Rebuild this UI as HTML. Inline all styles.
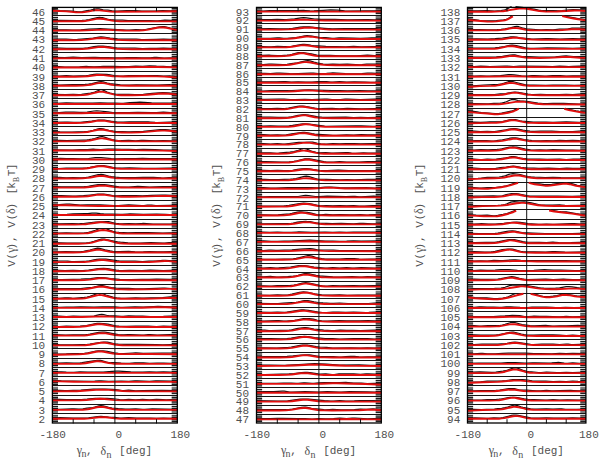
<!DOCTYPE html><html><head><meta charset="utf-8"><style>html,body{margin:0;padding:0;background:#fff;overflow:hidden;}svg{display:block;}text{font-family:"Liberation Mono",monospace;}</style></head><body>
<svg width="604" height="463" viewBox="0 0 604 463">
<rect width="604" height="463" fill="#fff"/>
<path d="M52.4 7V423h5.6V7zM177.3 7V423h-5.6V7z" fill="#d8d8d8"/>
<path d="M52.4 15.5H177.3M52.4 24.5H177.3M52.4 33.5H177.3M52.4 43.5H177.3M52.4 52.5H177.3M52.4 61.5H177.3M52.4 71.5H177.3M52.4 80.5H177.3M52.4 89.5H177.3M52.4 98.5H177.3M52.4 108.5H177.3M52.4 117.5H177.3M52.4 126.5H177.3M52.4 135.5H177.3M52.4 145.5H177.3M52.4 154.5H177.3M52.4 163.5H177.3M52.4 172.5H177.3M52.4 182.5H177.3M52.4 191.5H177.3M52.4 200.5H177.3M52.4 209.5H177.3M52.4 219.5H177.3M52.4 228.5H177.3M52.4 237.5H177.3M52.4 246.5H177.3M52.4 256.5H177.3M52.4 265.5H177.3M52.4 274.5H177.3M52.4 284.5H177.3M52.4 293.5H177.3M52.4 302.5H177.3M52.4 311.5H177.3M52.4 321.5H177.3M52.4 330.5H177.3M52.4 339.5H177.3M52.4 348.5H177.3M52.4 358.5H177.3M52.4 367.5H177.3M52.4 376.5H177.3M52.4 385.5H177.3M52.4 395.5H177.3M52.4 404.5H177.3M52.4 413.5H177.3" stroke="#151515" stroke-width="1.1" fill="none"/>
<path d="M52.4 8.3h5.6M177.3 8.3h-5.6M52.4 10.2h5.6M177.3 10.2h-5.6M52.4 12.1h5.6M177.3 12.1h-5.6M52.4 13.8h5.6M177.3 13.8h-5.6M52.4 17.5h5.6M177.3 17.5h-5.6M52.4 19.4h5.6M177.3 19.4h-5.6M52.4 21.3h5.6M177.3 21.3h-5.6M52.4 23.0h5.6M177.3 23.0h-5.6M52.4 26.8h5.6M177.3 26.8h-5.6M52.4 28.7h5.6M177.3 28.7h-5.6M52.4 30.6h5.6M177.3 30.6h-5.6M52.4 32.3h5.6M177.3 32.3h-5.6M52.4 36.1h5.6M177.3 36.1h-5.6M52.4 38.0h5.6M177.3 38.0h-5.6M52.4 39.9h5.6M177.3 39.9h-5.6M52.4 41.6h5.6M177.3 41.6h-5.6M52.4 45.3h5.6M177.3 45.3h-5.6M52.4 47.2h5.6M177.3 47.2h-5.6M52.4 49.1h5.6M177.3 49.1h-5.6M52.4 50.8h5.6M177.3 50.8h-5.6M52.4 54.6h5.6M177.3 54.6h-5.6M52.4 56.5h5.6M177.3 56.5h-5.6M52.4 58.4h5.6M177.3 58.4h-5.6M52.4 60.1h5.6M177.3 60.1h-5.6M52.4 63.8h5.6M177.3 63.8h-5.6M52.4 65.7h5.6M177.3 65.7h-5.6M52.4 67.6h5.6M177.3 67.6h-5.6M52.4 69.3h5.6M177.3 69.3h-5.6M52.4 73.1h5.6M177.3 73.1h-5.6M52.4 75.0h5.6M177.3 75.0h-5.6M52.4 76.9h5.6M177.3 76.9h-5.6M52.4 78.6h5.6M177.3 78.6h-5.6M52.4 82.4h5.6M177.3 82.4h-5.6M52.4 84.3h5.6M177.3 84.3h-5.6M52.4 86.2h5.6M177.3 86.2h-5.6M52.4 87.9h5.6M177.3 87.9h-5.6M52.4 91.6h5.6M177.3 91.6h-5.6M52.4 93.5h5.6M177.3 93.5h-5.6M52.4 95.4h5.6M177.3 95.4h-5.6M52.4 97.1h5.6M177.3 97.1h-5.6M52.4 100.9h5.6M177.3 100.9h-5.6M52.4 102.8h5.6M177.3 102.8h-5.6M52.4 104.7h5.6M177.3 104.7h-5.6M52.4 106.4h5.6M177.3 106.4h-5.6M52.4 110.2h5.6M177.3 110.2h-5.6M52.4 112.1h5.6M177.3 112.1h-5.6M52.4 114.0h5.6M177.3 114.0h-5.6M52.4 115.7h5.6M177.3 115.7h-5.6M52.4 119.4h5.6M177.3 119.4h-5.6M52.4 121.3h5.6M177.3 121.3h-5.6M52.4 123.2h5.6M177.3 123.2h-5.6M52.4 124.9h5.6M177.3 124.9h-5.6M52.4 128.7h5.6M177.3 128.7h-5.6M52.4 130.6h5.6M177.3 130.6h-5.6M52.4 132.5h5.6M177.3 132.5h-5.6M52.4 134.2h5.6M177.3 134.2h-5.6M52.4 137.9h5.6M177.3 137.9h-5.6M52.4 139.8h5.6M177.3 139.8h-5.6M52.4 141.7h5.6M177.3 141.7h-5.6M52.4 143.4h5.6M177.3 143.4h-5.6M52.4 147.2h5.6M177.3 147.2h-5.6M52.4 149.1h5.6M177.3 149.1h-5.6M52.4 151.0h5.6M177.3 151.0h-5.6M52.4 152.7h5.6M177.3 152.7h-5.6M52.4 156.5h5.6M177.3 156.5h-5.6M52.4 158.4h5.6M177.3 158.4h-5.6M52.4 160.3h5.6M177.3 160.3h-5.6M52.4 162.0h5.6M177.3 162.0h-5.6M52.4 165.7h5.6M177.3 165.7h-5.6M52.4 167.6h5.6M177.3 167.6h-5.6M52.4 169.5h5.6M177.3 169.5h-5.6M52.4 171.2h5.6M177.3 171.2h-5.6M52.4 175.0h5.6M177.3 175.0h-5.6M52.4 176.9h5.6M177.3 176.9h-5.6M52.4 178.8h5.6M177.3 178.8h-5.6M52.4 180.5h5.6M177.3 180.5h-5.6M52.4 184.3h5.6M177.3 184.3h-5.6M52.4 186.2h5.6M177.3 186.2h-5.6M52.4 188.1h5.6M177.3 188.1h-5.6M52.4 189.8h5.6M177.3 189.8h-5.6M52.4 193.5h5.6M177.3 193.5h-5.6M52.4 195.4h5.6M177.3 195.4h-5.6M52.4 197.3h5.6M177.3 197.3h-5.6M52.4 199.0h5.6M177.3 199.0h-5.6M52.4 202.8h5.6M177.3 202.8h-5.6M52.4 204.7h5.6M177.3 204.7h-5.6M52.4 206.6h5.6M177.3 206.6h-5.6M52.4 208.3h5.6M177.3 208.3h-5.6M52.4 212.0h5.6M177.3 212.0h-5.6M52.4 213.9h5.6M177.3 213.9h-5.6M52.4 215.8h5.6M177.3 215.8h-5.6M52.4 217.5h5.6M177.3 217.5h-5.6M52.4 221.3h5.6M177.3 221.3h-5.6M52.4 223.2h5.6M177.3 223.2h-5.6M52.4 225.1h5.6M177.3 225.1h-5.6M52.4 226.8h5.6M177.3 226.8h-5.6M52.4 230.6h5.6M177.3 230.6h-5.6M52.4 232.5h5.6M177.3 232.5h-5.6M52.4 234.4h5.6M177.3 234.4h-5.6M52.4 236.1h5.6M177.3 236.1h-5.6M52.4 239.8h5.6M177.3 239.8h-5.6M52.4 241.7h5.6M177.3 241.7h-5.6M52.4 243.6h5.6M177.3 243.6h-5.6M52.4 245.3h5.6M177.3 245.3h-5.6M52.4 249.1h5.6M177.3 249.1h-5.6M52.4 251.0h5.6M177.3 251.0h-5.6M52.4 252.9h5.6M177.3 252.9h-5.6M52.4 254.6h5.6M177.3 254.6h-5.6M52.4 258.4h5.6M177.3 258.4h-5.6M52.4 260.3h5.6M177.3 260.3h-5.6M52.4 262.2h5.6M177.3 262.2h-5.6M52.4 263.9h5.6M177.3 263.9h-5.6M52.4 267.6h5.6M177.3 267.6h-5.6M52.4 269.5h5.6M177.3 269.5h-5.6M52.4 271.4h5.6M177.3 271.4h-5.6M52.4 273.1h5.6M177.3 273.1h-5.6M52.4 276.9h5.6M177.3 276.9h-5.6M52.4 278.8h5.6M177.3 278.8h-5.6M52.4 280.7h5.6M177.3 280.7h-5.6M52.4 282.4h5.6M177.3 282.4h-5.6M52.4 286.1h5.6M177.3 286.1h-5.6M52.4 288.0h5.6M177.3 288.0h-5.6M52.4 289.9h5.6M177.3 289.9h-5.6M52.4 291.6h5.6M177.3 291.6h-5.6M52.4 295.4h5.6M177.3 295.4h-5.6M52.4 297.3h5.6M177.3 297.3h-5.6M52.4 299.2h5.6M177.3 299.2h-5.6M52.4 300.9h5.6M177.3 300.9h-5.6M52.4 304.7h5.6M177.3 304.7h-5.6M52.4 306.6h5.6M177.3 306.6h-5.6M52.4 308.5h5.6M177.3 308.5h-5.6M52.4 310.2h5.6M177.3 310.2h-5.6M52.4 313.9h5.6M177.3 313.9h-5.6M52.4 315.8h5.6M177.3 315.8h-5.6M52.4 317.7h5.6M177.3 317.7h-5.6M52.4 319.4h5.6M177.3 319.4h-5.6M52.4 323.2h5.6M177.3 323.2h-5.6M52.4 325.1h5.6M177.3 325.1h-5.6M52.4 327.0h5.6M177.3 327.0h-5.6M52.4 328.7h5.6M177.3 328.7h-5.6M52.4 332.4h5.6M177.3 332.4h-5.6M52.4 334.3h5.6M177.3 334.3h-5.6M52.4 336.2h5.6M177.3 336.2h-5.6M52.4 337.9h5.6M177.3 337.9h-5.6M52.4 341.7h5.6M177.3 341.7h-5.6M52.4 343.6h5.6M177.3 343.6h-5.6M52.4 345.5h5.6M177.3 345.5h-5.6M52.4 347.2h5.6M177.3 347.2h-5.6M52.4 351.0h5.6M177.3 351.0h-5.6M52.4 352.9h5.6M177.3 352.9h-5.6M52.4 354.8h5.6M177.3 354.8h-5.6M52.4 356.5h5.6M177.3 356.5h-5.6M52.4 360.2h5.6M177.3 360.2h-5.6M52.4 362.1h5.6M177.3 362.1h-5.6M52.4 364.0h5.6M177.3 364.0h-5.6M52.4 365.7h5.6M177.3 365.7h-5.6M52.4 369.5h5.6M177.3 369.5h-5.6M52.4 371.4h5.6M177.3 371.4h-5.6M52.4 373.3h5.6M177.3 373.3h-5.6M52.4 375.0h5.6M177.3 375.0h-5.6M52.4 378.8h5.6M177.3 378.8h-5.6M52.4 380.7h5.6M177.3 380.7h-5.6M52.4 382.6h5.6M177.3 382.6h-5.6M52.4 384.3h5.6M177.3 384.3h-5.6M52.4 388.0h5.6M177.3 388.0h-5.6M52.4 389.9h5.6M177.3 389.9h-5.6M52.4 391.8h5.6M177.3 391.8h-5.6M52.4 393.5h5.6M177.3 393.5h-5.6M52.4 397.3h5.6M177.3 397.3h-5.6M52.4 399.2h5.6M177.3 399.2h-5.6M52.4 401.1h5.6M177.3 401.1h-5.6M52.4 402.8h5.6M177.3 402.8h-5.6M52.4 406.5h5.6M177.3 406.5h-5.6M52.4 408.4h5.6M177.3 408.4h-5.6M52.4 410.3h5.6M177.3 410.3h-5.6M52.4 412.0h5.6M177.3 412.0h-5.6M52.4 415.8h5.6M177.3 415.8h-5.6M52.4 417.7h5.6M177.3 417.7h-5.6M52.4 419.6h5.6M177.3 419.6h-5.6M52.4 421.3h5.6M177.3 421.3h-5.6" stroke="#1e1e1e" stroke-width="1.2" fill="none"/>
<path d="M52.4 9.6 60.0 10.5 64.9 10.8 71.8 11.1 78.1 11.8 80.2 11.9 82.2 11.7 87.1 10.7 90.6 10.2 94.7 9.1 96.8 8.8 98.9 8.9 103.1 9.8 107.9 10.2 112.1 10.9 114.8 11.1 117.6 11.1 126.6 10.7 130.1 10.6 135.7 10.6 141.9 11.0 146.1 11.1 154.4 11.0 162.7 10.6 170.4 10.8 177.3 10.6M52.4 20.7 60.0 20.4 78.1 20.5 82.2 20.4 85.7 20.0 89.2 19.5 92.0 18.9 97.5 17.6 99.6 17.4 101.0 17.5 102.4 17.7 107.2 19.1 108.6 19.4 110.7 19.7 115.5 20.1 122.5 20.2 128.0 20.7 130.1 20.7 135.7 20.5 142.6 20.7 149.5 20.7 155.8 20.9 157.9 20.8 162.7 20.3 164.8 20.2 177.3 20.6M52.4 29.8 59.3 29.9 66.3 29.8 72.5 30.0 77.4 30.0 80.8 29.9 89.2 29.2 96.8 28.8 100.3 28.7 103.7 28.8 126.6 30.1 129.4 30.1 135.7 29.6 141.9 29.8 143.3 29.7 145.4 29.5 150.2 28.5 160.0 26.8 162.7 26.5 164.1 26.6 165.5 26.8 170.4 28.0 172.4 28.4 177.3 28.8M52.4 39.7 58.0 39.1 61.4 39.0 66.3 39.1 73.2 39.5 77.4 39.4 81.5 39.1 87.8 38.5 93.3 38.1 98.9 37.1 101.0 36.9 103.7 37.0 110.0 38.0 117.6 38.9 121.8 39.2 128.7 39.1 133.6 39.1 136.4 39.2 141.9 39.7 144.0 39.7 156.5 39.4 163.4 39.1 170.4 39.3 177.3 39.3M52.4 48.6 57.3 48.2 60.0 48.1 66.3 48.3 73.2 48.3 79.5 48.4 82.9 48.3 87.8 47.9 94.0 46.7 96.1 46.4 98.2 46.2 101.0 46.1 103.1 46.1 105.1 46.3 107.9 46.7 114.2 47.7 117.6 48.0 135.0 48.1 142.6 48.7 149.5 48.4 156.5 48.4 163.4 48.1 177.3 48.5M52.4 57.4 64.9 57.6 73.2 57.2 81.5 57.6 93.3 57.3 95.4 57.4 100.3 57.7 102.4 57.7 107.9 57.5 114.2 57.9 117.6 57.9 121.8 57.9 127.3 57.5 130.1 57.5 135.7 57.6 141.9 57.9 146.1 57.9 150.2 57.8 154.4 57.4 156.5 57.4 164.1 58.0 170.4 57.9 177.3 57.9M52.4 66.5 59.3 66.5 64.9 67.0 67.7 67.1 79.5 66.8 86.4 66.4 88.5 66.5 94.0 66.9 100.3 66.5 103.1 66.4 113.5 66.4 120.4 66.6 123.9 66.7 128.7 66.5 135.7 66.1 142.6 66.3 149.5 65.8 156.5 66.2 163.4 66.3 169.7 66.8 172.4 66.7 177.3 66.3M52.4 75.8 59.3 76.0 66.3 75.6 73.2 76.1 80.2 75.8 85.7 75.8 88.5 75.4 94.0 74.3 96.8 74.1 106.5 74.4 108.6 74.6 114.2 75.6 119.7 76.0 123.2 76.0 128.7 75.7 134.3 75.6 151.6 75.5 157.2 75.6 163.4 76.0 169.7 75.9 171.7 76.1 177.3 76.9M52.4 85.0 60.0 85.0 72.5 84.7 80.8 84.6 85.0 84.4 88.5 84.1 92.0 83.6 94.0 83.1 98.9 81.8 101.0 81.5 103.1 81.8 107.2 83.0 110.0 83.6 120.4 84.8 126.6 85.2 129.4 85.2 136.4 84.8 157.2 85.0 169.7 84.7 172.4 84.8 177.3 85.1M52.4 94.3 65.6 94.7 73.2 94.3 78.8 94.5 81.5 94.4 90.6 93.1 92.6 92.7 94.7 92.0 98.9 90.2 100.3 89.8M101.7 89.8 102.4 90.0 103.7 90.4 107.2 92.1 110.0 93.1 113.5 93.9 115.5 94.2 117.6 94.3 121.8 94.4 128.7 94.3 135.0 94.6 139.1 94.6 143.3 94.3 152.3 93.4 159.3 92.8 162.7 92.7 167.6 92.8 177.3 93.6M52.4 103.5 66.3 102.9 74.6 103.0 92.6 103.0 100.3 102.8 107.9 103.1 114.8 103.2 121.1 103.4 123.2 103.3 130.1 102.7 136.4 102.3 139.8 102.2 144.0 102.3 151.6 102.8 157.2 103.0 169.7 103.1 177.3 102.9M52.4 112.5 57.3 112.7 59.3 112.7 65.6 112.1 68.4 112.1 73.9 112.2 79.5 112.4 81.5 112.4 87.1 112.0 94.0 111.0 96.8 110.8 99.6 111.0 107.9 111.9 112.8 112.6 114.8 112.7 121.8 112.5 128.7 112.7 137.7 112.4 151.6 112.6 156.5 112.5 163.4 112.1 170.4 112.5 177.3 112.5M52.4 122.3 64.9 122.0 67.7 122.0 73.9 122.3 80.2 122.3 92.0 121.2 98.2 120.2 101.0 120.0 104.4 120.2 111.4 121.3 114.2 121.7 117.6 122.0 120.4 122.1 123.2 122.1 129.4 121.8 142.6 121.9 148.2 121.9 150.2 122.0 155.1 122.4 157.2 122.5 169.7 122.0 177.3 122.0M52.4 131.5 60.0 131.9 71.8 132.1 84.3 131.7 87.1 131.5 89.9 131.0 93.3 130.3 98.2 128.9 99.6 128.7 101.0 128.6 103.1 128.8 109.3 130.5 113.5 131.2 116.2 131.5 122.5 131.5 128.0 131.9 130.1 131.9 143.3 131.3 155.8 130.2 160.6 129.7 163.4 129.5 165.5 129.6 168.3 129.8 177.3 131.1M52.4 140.9 59.3 140.3 67.0 140.5 83.6 140.2 86.4 140.1 89.2 139.7 92.0 139.2 94.7 138.5 99.6 136.9 101.7 136.6 103.1 136.7 104.4 137.1 109.3 138.8 112.1 139.6 114.8 140.2 118.3 140.5 122.5 140.6 128.7 140.4 135.7 140.8 141.2 140.4 143.3 140.4 155.1 140.8 163.4 140.7 171.1 140.9 177.3 140.8M52.4 149.8 72.5 150.0 80.2 149.7 87.1 149.6 93.3 149.2 95.4 149.3 101.0 149.6 107.9 149.1 112.8 149.0 121.8 149.4 128.7 149.3 135.7 149.6 143.3 149.4 155.1 149.7 163.4 150.1 170.4 150.1 177.3 150.5M52.4 158.8 57.3 158.5 60.0 158.4 66.3 158.6 73.2 158.6 79.5 158.8 82.2 158.8 88.5 158.5 95.4 157.6 98.2 157.5 101.0 157.6 111.4 158.6 114.8 158.8 126.0 158.6 135.7 158.7 142.6 158.4 149.5 158.7 160.6 158.5 177.3 158.7M52.4 168.3 58.6 168.5 66.3 168.0 74.6 168.2 84.3 168.0 87.1 167.8 89.9 167.4 98.2 165.9 101.7 165.7 103.7 165.7 105.8 166.0 107.9 166.3 113.5 167.6 115.5 167.9 118.3 168.1 122.5 168.1 129.4 167.8 143.3 168.4 155.8 168.4 169.0 168.1 171.7 168.2 177.3 168.5M52.4 178.0 57.3 177.5 59.3 177.4 66.3 177.9 73.2 177.5 79.5 177.8 82.9 177.7 85.7 177.5 88.5 177.0 98.2 174.7 99.6 174.5 101.0 174.4 103.1 174.6 108.6 176.1 111.4 176.6 115.5 177.2 120.4 177.6 135.0 177.7 143.3 177.4 153.7 177.4 157.2 177.5 161.3 177.9 163.4 178.0 169.0 177.5 171.1 177.5 177.3 177.8M52.4 186.5 61.4 186.8 84.3 186.7 87.1 186.5 89.2 186.2 98.2 184.7 100.3 184.5 102.4 184.5 104.4 184.5 106.5 184.8 114.2 186.1 119.0 186.8 123.2 187.1 128.7 187.1 135.0 186.5 137.7 186.4 142.6 186.5 149.5 187.0 162.7 186.5 170.4 186.7 177.3 186.7M52.4 195.7 61.4 195.6 66.3 195.8 72.5 196.2 76.0 196.2 83.6 195.7 90.6 195.0 97.5 194.2 101.0 194.0 103.7 194.1 105.8 194.4 112.8 195.6 115.5 195.9 123.2 195.5 135.7 195.6 142.6 195.8 151.6 195.3 162.0 195.0 165.5 195.0 177.3 195.6M52.4 204.8 59.3 204.6 66.3 204.1 69.7 204.2 80.2 205.0 87.1 204.8 100.3 204.9 114.2 205.6 118.3 205.5 128.7 204.9 141.9 205.6 144.0 205.5 147.5 205.1 149.5 205.0 151.6 205.1 155.8 205.5 157.2 205.6 169.0 205.3 177.3 205.2M52.4 214.4 60.7 214.5 67.0 214.3 73.2 213.9 85.0 213.7 87.8 213.6 92.0 213.1 94.0 213.0 96.1 213.1 100.3 213.6 103.7 213.8 120.4 214.3 122.5 214.3 127.3 214.0 130.1 213.9 143.3 214.4 156.5 214.0 165.5 214.4 169.7 214.6 172.4 214.5 177.3 214.2M52.4 223.7 59.3 223.9 72.5 223.6 78.8 223.8 80.8 223.7 83.6 223.5 87.1 223.1 95.4 222.0 105.8 221.5 108.6 221.7 114.2 223.0 116.2 223.3 119.0 223.6 121.8 223.8 128.7 223.7 135.7 223.9 141.2 223.5 143.3 223.4 153.0 224.0 159.3 224.1 169.7 224.0 177.3 223.5M52.4 233.1 59.3 233.2 66.3 232.9 73.9 233.0 84.3 232.8 86.4 232.7 88.5 232.4 91.3 231.6 95.4 230.2 98.9 228.8M106.5 228.9 110.0 230.4 112.8 231.3 115.5 232.0 119.0 232.4 128.0 232.8 136.4 232.5 148.2 232.5 162.7 233.0 170.4 232.8 177.3 233.0M52.4 242.7 67.0 243.2 86.4 242.9 89.2 242.6 91.3 242.2 94.0 241.4 99.6 239.6 101.7 239.2 103.1 239.1 104.4 239.2 106.5 239.5 114.8 241.4 117.6 241.9 120.4 242.2 128.0 242.8 140.5 243.0 150.9 242.7 156.5 242.9 162.7 243.2 164.8 243.1 169.0 242.6 171.1 242.5 177.3 242.9M52.4 252.0 65.6 251.6 75.3 251.8 80.8 251.6 83.6 251.3 87.1 250.6 89.9 250.0 95.4 248.5 97.5 248.2 99.6 248.4 105.1 249.8 110.0 250.8 112.8 251.3 115.5 251.5 119.7 251.6 128.7 251.4 135.0 251.9 139.1 252.0 143.3 251.9 149.5 251.6 157.9 251.9 163.4 251.9 170.4 251.5 177.3 251.8M52.4 261.0 65.6 261.0 67.7 261.1 71.8 261.6 73.9 261.7 84.3 261.3 86.4 261.2 88.5 261.0 94.0 259.8 96.8 259.4 99.6 259.2 102.4 259.1 105.8 259.2 116.9 260.7 119.7 261.0 122.5 261.1 135.0 261.2 142.6 261.6 148.9 261.1 155.8 261.0 162.7 260.4 165.5 260.4 169.0 260.5 177.3 261.1M52.4 270.2 64.9 270.5 73.2 270.4 79.5 270.5 82.9 270.5 88.5 270.1 95.4 269.0 98.2 268.6 103.7 268.3 107.2 268.5 116.2 270.1 119.0 270.4 121.8 270.6 129.4 270.4 141.9 270.6 150.2 270.2 163.4 270.7 170.4 270.3 177.3 270.2M52.4 279.3 58.0 279.7 61.4 279.7 73.2 279.3 80.8 279.2 90.6 278.6 98.2 277.7 101.7 277.5 105.1 277.8 110.7 278.5 119.7 279.4 126.6 279.7 130.8 279.7 141.9 279.4 149.5 279.4 156.5 279.2 169.7 279.4 177.3 279.2M52.4 288.4 60.0 288.7 71.8 288.5 78.8 288.6 80.8 288.6 87.1 287.8 92.6 287.3 94.0 287.0 98.9 285.8 101.0 285.6 102.4 285.7 103.7 285.9 108.6 287.1 111.4 287.6 116.2 288.1 120.4 288.4 128.7 288.4 135.7 288.8 141.2 288.9 144.0 288.9 149.5 288.5 156.5 288.3 162.7 288.0 164.8 288.0 171.1 288.5 177.3 288.5M52.4 298.2 59.3 298.4 64.9 297.8 66.3 297.8 68.4 297.9 71.8 298.2 73.9 298.3 84.3 297.4 87.1 297.0 89.9 296.3 93.3 295.1 96.8 293.7M102.4 293.5 105.8 295.0 112.8 297.1 114.8 297.6 116.9 297.9 121.1 298.3 125.3 298.3 135.7 297.9 141.9 298.2 144.0 298.2 150.9 297.9 162.7 297.7 170.4 296.9 173.1 296.8 177.3 297.0M52.4 306.9 59.3 307.3 66.3 307.0 73.2 307.2 80.8 306.8 94.0 307.2 102.4 306.9 109.3 306.8 114.8 306.9 120.4 307.4 122.5 307.4 135.0 306.9 143.3 307.2 153.7 306.6 157.9 306.4 177.3 307.0M52.4 316.1 59.3 316.0 66.3 316.6 73.2 316.1 80.8 316.4 90.6 316.3 94.0 316.0 95.4 315.7 99.6 314.6 101.7 314.4 103.7 314.7 107.2 315.5 108.6 315.7 110.7 315.9 114.8 315.9 121.1 316.4 123.2 316.3 128.7 315.9 135.7 316.2 142.6 316.0 150.2 316.5 163.4 316.3 169.7 316.0 172.4 316.1 177.3 316.6M52.4 326.0 57.3 326.4 59.3 326.5 66.3 326.1 73.9 326.3 80.2 326.2 83.6 325.9 86.4 325.6 93.3 324.0 95.4 323.6 97.5 323.4 99.6 323.4 103.1 323.5 105.8 323.8 107.9 324.2 114.2 325.7 116.2 325.9 119.0 326.1 126.6 326.3 135.7 326.0 142.6 326.1 148.2 326.1 156.5 326.5 163.4 326.1 170.4 326.3 177.3 326.1M52.4 334.7 59.3 334.9 65.6 335.1 73.2 334.8 85.7 334.7 87.8 334.5 89.9 334.2 98.9 332.4 102.4 332.1 104.4 332.2 106.5 332.4 118.3 334.6 121.8 334.9 123.9 334.9 128.0 334.6 130.1 334.6 141.9 335.0 144.0 335.0 148.2 334.7 150.2 334.6 157.2 335.0 169.7 334.6 172.4 334.7 177.3 335.2M52.4 344.3 59.3 344.6 72.5 344.8 80.2 344.5 86.4 344.5 89.9 344.2 96.1 343.0 99.6 342.5 103.7 342.0 105.8 342.0 107.2 342.1 108.6 342.3 113.5 343.6 114.8 343.9 118.3 344.2 127.3 344.4 137.7 344.3 156.5 344.6 162.7 344.8 170.4 344.5 177.3 344.7M52.4 353.8 56.6 354.1 60.0 354.1 66.3 353.9 72.5 353.5 79.5 353.6 81.5 353.5 84.3 353.3 87.8 352.8 96.1 351.1 98.2 350.9 100.3 350.8 103.1 350.9 105.1 351.1 107.2 351.4 114.2 352.8 118.3 353.4 121.1 353.6 123.9 353.6 132.9 353.0 135.7 352.9 143.3 353.3 162.0 353.0 169.7 353.0 177.3 353.2M52.4 363.0 59.3 363.0 66.3 362.8 73.9 363.1 79.5 363.0 82.2 362.7 88.5 361.6 95.4 360.6 97.5 360.4 98.9 360.4 100.3 360.4 101.7 360.7 106.5 362.0 108.6 362.5 110.7 362.6 114.8 362.6 121.1 363.1 125.3 363.3 129.4 363.3 135.0 362.9 139.1 362.8 143.3 362.9 149.5 363.4 157.2 363.1 163.4 363.1 170.4 363.3 177.3 363.0M52.4 372.4 57.3 371.9 59.3 371.8 61.4 371.9 66.3 372.2 71.1 372.3 73.9 372.3 80.2 371.9 87.8 372.2 98.9 372.2 103.1 372.0 112.1 371.3 116.2 371.1 119.0 371.2 126.6 371.7 130.8 371.9 142.6 372.1 149.5 371.9 156.5 372.0 163.4 371.9 170.4 372.1 177.3 372.1M52.4 380.3 61.4 380.9 73.2 381.1 92.0 381.3 94.7 381.2 98.9 380.9 101.0 380.8 108.6 381.3 121.1 381.0 128.7 381.3 135.0 380.9 137.1 380.9 149.5 381.4 155.8 380.9 157.9 380.9 170.4 381.0 177.3 381.3M52.4 390.5 59.3 390.3 64.9 390.6 67.7 390.7 73.2 390.4 80.8 390.2 93.3 389.2 98.2 389.1 105.1 389.1 112.8 389.3 115.5 389.5 119.7 390.2 121.8 390.5 123.9 390.5 128.7 390.2 135.7 390.8 142.6 390.5 162.0 390.3 177.3 390.5M52.4 399.4 59.3 399.4 66.3 399.6 73.2 399.5 81.5 399.5 87.1 399.2 95.4 398.3 103.7 398.3 107.2 398.3 113.5 398.8 115.5 399.0 119.7 399.7 121.8 399.9 123.2 399.8 128.7 399.4 135.7 399.8 142.6 399.4 149.5 399.9 156.5 399.4 162.7 399.7 166.2 399.8 171.1 399.7 177.3 399.5M52.4 409.1 59.3 409.4 66.3 409.0 71.8 408.8 73.9 408.9 78.8 409.2 80.8 409.2 82.9 408.9 87.1 408.2 92.6 407.6 94.7 407.1 98.9 405.9 101.0 405.6 103.1 405.8 108.6 407.4 112.1 408.0 118.3 408.7 125.3 409.1 129.4 409.2 135.7 408.8 142.6 409.4 144.7 409.3 148.9 409.0 152.3 408.9 177.3 409.4M52.4 418.3 57.3 417.8 60.0 417.7 66.3 417.9 73.2 418.0 79.5 418.2 82.9 418.2 88.5 417.8 97.5 416.7 101.0 416.4 103.7 416.6 108.6 417.1 114.8 417.4 119.7 418.0 121.8 418.1 128.7 417.7 136.4 418.2 146.8 418.0 150.2 418.0 156.5 418.3 163.4 418.0 170.4 418.3 177.3 418.2" stroke="#111" stroke-width="1.2" fill="none" stroke-linejoin="round"/>
<path d="M52.4 10.7 66.3 11.4 76.0 12.2 80.2 12.4 82.2 12.3 84.3 12.1 89.2 11.4 94.0 10.4 96.1 10.2 99.6 10.4 110.7 11.6 114.8 11.8 156.5 11.6 167.6 11.5 177.3 11.2M52.4 21.4 75.3 21.3 82.2 21.2 85.0 21.0 87.8 20.6 96.8 18.9 98.9 18.7 100.3 18.7 103.7 19.0 110.7 20.4 113.5 20.8 116.2 21.1 119.7 21.3 128.0 21.4 177.3 21.4M52.4 30.6 80.2 30.5 86.4 30.4 97.5 29.9 102.4 29.8 107.9 29.9 123.9 30.5 132.2 30.6 139.1 30.5 143.3 30.3 146.8 29.9 149.5 29.4 157.2 27.8 159.3 27.5 161.3 27.4 163.4 27.5 166.2 27.8 173.8 29.4 177.3 30.0M52.4 40.2 73.9 40.2 81.5 40.0 87.1 39.6 96.8 38.2 101.0 38.0 105.1 38.2 112.8 39.3 116.2 39.7 122.5 40.1 131.5 40.2 177.3 40.2M52.4 49.2 74.6 49.2 82.2 49.1 85.7 48.8 88.5 48.5 98.2 47.1 100.3 47.0 102.4 46.9 106.5 47.2 116.9 48.7 123.2 49.1 132.2 49.2 177.3 49.2M52.4 58.4 73.9 58.2 106.5 58.5 177.3 58.5M52.4 67.5 113.5 67.5 148.9 66.9 157.2 67.0 177.3 67.4M52.4 76.7 75.3 76.7 82.2 76.6 87.8 76.2 96.8 75.0 100.3 74.9 103.7 75.1 112.8 76.2 116.9 76.4 123.2 76.5 144.7 76.3 156.5 76.4 164.1 76.6 173.8 77.3 177.3 77.4M52.4 85.7 76.0 85.7 82.9 85.6 87.8 85.1 90.6 84.7 96.8 83.4 98.9 83.1 101.0 83.0 103.1 83.1 105.1 83.4 111.4 84.7 114.2 85.1 116.9 85.4 120.4 85.6 128.7 85.7 177.3 85.7M52.4 95.3 76.0 95.3 82.9 95.1 85.7 94.8 87.8 94.5 90.6 93.9 96.8 92.3 98.9 91.9 101.0 91.8 103.1 91.9 105.1 92.3 111.4 93.9 114.8 94.6 117.6 95.0 121.1 95.2 132.2 95.3 141.9 95.1 147.5 94.7 158.6 93.7 162.7 93.5 168.3 93.7 177.3 94.6M52.4 104.0 177.3 104.0M52.4 113.2 81.5 113.2 97.5 112.7 110.0 113.1 115.5 113.2 177.3 113.2M52.4 123.0 76.0 123.0 82.9 122.8 87.8 122.4 90.6 122.0 96.8 120.9 98.9 120.7 101.0 120.6 103.1 120.7 105.1 120.9 111.4 122.0 114.2 122.4 116.9 122.7 120.4 122.9 128.7 123.0 177.3 123.0M52.4 132.6 76.0 132.6 82.9 132.4 87.8 132.0 90.6 131.4 96.8 130.0 98.9 129.7 101.0 129.6 103.1 129.7 105.1 130.0 111.4 131.4 114.8 132.1 118.3 132.4 121.8 132.5 131.5 132.6 139.8 132.3 146.1 131.9 157.2 130.9 162.0 130.6 164.8 130.6 168.3 130.8 177.3 131.6M52.4 141.4 77.4 141.4 84.3 141.2 87.1 140.9 89.9 140.5 98.9 138.6 101.0 138.4 102.4 138.4 103.7 138.5 105.8 138.7 114.8 140.7 117.6 141.0 121.1 141.3 129.4 141.4 177.3 141.4M52.4 150.5 85.0 150.5 108.6 150.0 116.2 149.9 140.5 150.4 162.7 150.6 177.3 151.1M52.4 159.5 177.3 159.5M52.4 168.9 76.0 168.9 82.9 168.8 87.8 168.3 90.6 167.8 96.8 166.5 98.9 166.3 101.0 166.1 103.1 166.3 105.1 166.5 111.4 167.8 114.2 168.3 116.9 168.6 120.4 168.8 128.7 168.9 177.3 168.9M52.4 178.5 76.0 178.5 82.9 178.3 87.8 177.9 90.6 177.5 96.8 176.3 98.9 176.0 101.0 175.9 103.1 176.0 105.1 176.3 111.4 177.5 114.2 177.9 116.9 178.2 120.4 178.4 128.7 178.5 177.3 178.5M52.4 187.6 77.4 187.6 84.3 187.5 89.9 187.0 98.9 185.8 102.4 185.6 105.8 185.8 114.8 187.1 117.6 187.4 121.1 187.5 129.4 187.6 177.3 187.6M52.4 196.7 76.0 196.7 82.9 196.6 87.8 196.2 96.8 194.9 98.9 194.7 101.0 194.6 103.1 194.7 105.1 194.9 111.4 195.9 114.8 196.3 121.1 196.7 130.1 196.7 141.2 196.6 162.7 195.9 168.3 196.0 177.3 196.4M52.4 205.4 59.3 205.2 65.6 205.2 86.4 205.9 98.9 206.0 177.3 206.1M52.4 215.0 177.3 215.0M52.4 224.6 74.6 224.6 82.2 224.4 85.7 224.2 88.5 223.9 98.2 222.5 100.3 222.3 102.4 222.3 106.5 222.6 116.9 224.1 123.2 224.5 132.2 224.6 177.3 224.6M52.4 233.6 78.1 233.6 85.0 233.4 87.8 233.2 89.9 232.8 92.6 232.2 98.9 230.5 101.0 230.2 103.1 230.0 105.1 230.2 107.2 230.5 113.5 232.2 116.2 232.8 119.0 233.2 122.5 233.5 130.8 233.6 177.3 233.6M52.4 243.7 78.8 243.7 82.9 243.6 86.4 243.4 89.2 243.1 92.0 242.6 98.9 240.7 101.0 240.2 103.1 239.9 104.4 239.9 105.8 240.0 107.9 240.3 114.2 242.1 116.9 242.8 119.7 243.2 123.2 243.5 131.5 243.7 177.3 243.7M52.4 252.5 73.2 252.5 80.2 252.4 82.9 252.1 85.7 251.8 94.7 250.0 96.8 249.8 98.2 249.8 99.6 249.8 101.7 250.1 108.6 251.5 111.4 252.0 114.2 252.3 117.6 252.5 126.0 252.5 177.3 252.5M52.4 262.1 77.4 262.1 84.3 262.0 89.2 261.6 98.2 260.3 101.7 260.0 103.7 260.1 105.8 260.3 112.8 261.3 115.5 261.7 118.3 261.9 121.8 262.0 134.3 262.1 148.9 262.0 153.7 261.8 161.3 261.2 164.8 261.0 168.3 261.1 177.3 261.9M52.4 271.3 77.4 271.2 84.3 271.1 89.9 270.6 98.9 269.2 102.4 269.1 105.8 269.3 114.8 270.7 117.6 271.0 121.1 271.2 129.4 271.3 177.3 271.3M52.4 280.2 77.4 280.2 84.3 280.1 89.9 279.6 98.9 278.3 102.4 278.1 105.8 278.4 114.8 279.7 117.6 280.0 121.1 280.1 129.4 280.2 177.3 280.2M52.4 289.5 76.0 289.5 82.9 289.3 87.8 288.8 90.6 288.3 96.8 287.0 98.9 286.7 101.0 286.6 103.1 286.7 105.1 287.0 111.4 288.3 114.8 288.9 117.6 289.2 121.1 289.4 128.7 289.5 146.8 289.4 166.2 288.9 170.4 288.9 177.3 289.2M52.4 298.8 75.3 298.8 82.2 298.6 85.0 298.3 87.1 297.9 89.9 297.2 96.1 295.5 98.2 295.1 99.6 295.0 101.7 295.1 103.7 295.5 110.7 297.4 113.5 298.0 116.9 298.5 120.4 298.7 127.3 298.8 144.7 298.8 153.0 298.6 167.6 298.0 172.4 297.9 177.3 298.1M52.4 307.9 133.6 307.9 141.9 307.7 154.4 307.2 160.0 307.1 165.5 307.2 177.3 307.7M52.4 317.0 82.2 317.0 102.4 316.4 116.9 316.9 123.2 317.0 177.3 317.0M52.4 327.0 72.5 327.0 80.2 326.7 82.9 326.5 85.7 326.2 95.4 324.5 97.5 324.2 99.6 324.2 101.7 324.3 103.7 324.5 111.4 325.9 114.2 326.4 117.6 326.7 121.1 326.9 130.1 327.0 177.3 327.0M52.4 335.6 77.4 335.6 84.3 335.5 87.1 335.3 89.9 334.9 98.9 333.4 102.4 333.2 105.8 333.4 114.8 335.0 117.6 335.3 121.1 335.5 129.4 335.6 177.3 335.6M52.4 345.4 78.1 345.4 85.0 345.2 89.9 344.8 92.6 344.3 98.9 343.1 101.0 342.8 103.1 342.7 105.1 342.8 107.2 343.1 113.5 344.3 116.2 344.8 119.0 345.1 122.5 345.3 130.8 345.4 177.3 345.4M52.4 354.8 58.0 354.8 67.7 354.5 78.8 354.3 82.9 354.1 85.7 353.8 87.8 353.5 96.1 351.8 98.2 351.5 99.6 351.4 101.7 351.5 103.7 351.8 110.0 353.1 112.8 353.5 115.5 353.9 118.3 354.0 123.9 354.1 149.5 354.0 177.3 354.2M52.4 363.9 73.2 363.9 80.2 363.7 82.9 363.5 85.7 363.2 94.7 361.5 96.8 361.3 98.2 361.3 101.7 361.6 108.6 363.0 111.4 363.4 114.2 363.7 117.6 363.8 126.0 363.9 177.3 363.9M52.4 372.9 177.3 372.9M52.4 381.4 59.3 381.4 73.9 381.8 83.6 381.9 177.3 381.9M52.4 391.4 68.4 391.3 76.7 391.2 83.6 390.8 96.1 389.9 102.4 389.7 108.6 389.9 122.5 391.0 130.1 391.3 141.2 391.4 177.3 391.4M52.4 400.4 72.5 400.4 80.2 400.3 86.4 400.0 96.1 399.0 100.3 398.8 104.4 399.0 114.8 400.1 121.8 400.4 177.3 400.4M52.4 409.9 76.0 409.9 82.9 409.7 87.8 409.2 90.6 408.7 96.8 407.3 98.9 407.0 101.0 406.9 103.1 407.0 105.1 407.3 111.4 408.7 114.2 409.2 116.9 409.6 120.4 409.8 128.7 409.9 177.3 409.9M52.4 418.8 77.4 418.8 84.3 418.7 89.9 418.4 98.9 417.3 102.4 417.2 105.8 417.3 114.8 418.4 121.1 418.8 129.4 418.8 177.3 418.8" stroke="#e20e0e" stroke-width="1.9" fill="none" stroke-linejoin="round"/>
<path d="M114.9 7.0V423.5" stroke="#111" stroke-width="1"/>
<path d="M73.2 7.0v4.3M73.2 423.5v-4.3M94.0 7.0v4.3M94.0 423.5v-4.3M135.7 7.0v4.3M135.7 423.5v-4.3M156.5 7.0v4.3M156.5 423.5v-4.3" stroke="#111" stroke-width="1"/>
<rect x="52.4" y="7.4" width="124.9" height="415.6" fill="none" stroke="#000" stroke-width="1.3"/>
<g font-size="11" fill="#505050" text-anchor="end"><text x="45.2" y="15.73">46</text><text x="45.2" y="24.98">45</text><text x="45.2" y="34.24">44</text><text x="45.2" y="43.49">43</text><text x="45.2" y="52.75">42</text><text x="45.2" y="62.01">41</text><text x="45.2" y="71.26">40</text><text x="45.2" y="80.52">39</text><text x="45.2" y="89.77">38</text><text x="45.2" y="99.03">37</text><text x="45.2" y="108.28">36</text><text x="45.2" y="117.54">35</text><text x="45.2" y="126.79">34</text><text x="45.2" y="136.05">33</text><text x="45.2" y="145.31">32</text><text x="45.2" y="154.56">31</text><text x="45.2" y="163.82">30</text><text x="45.2" y="173.07">29</text><text x="45.2" y="182.33">28</text><text x="45.2" y="191.58">27</text><text x="45.2" y="200.84">26</text><text x="45.2" y="210.09">25</text><text x="45.2" y="219.35">24</text><text x="45.2" y="228.61">23</text><text x="45.2" y="237.86">22</text><text x="45.2" y="247.12">21</text><text x="45.2" y="256.37">20</text><text x="45.2" y="265.63">19</text><text x="45.2" y="274.88">18</text><text x="45.2" y="284.14">17</text><text x="45.2" y="293.39">16</text><text x="45.2" y="302.65">15</text><text x="45.2" y="311.91">14</text><text x="45.2" y="321.16">13</text><text x="45.2" y="330.42">12</text><text x="45.2" y="339.67">11</text><text x="45.2" y="348.93">10</text><text x="45.2" y="358.18">9</text><text x="45.2" y="367.44">8</text><text x="45.2" y="376.69">7</text><text x="45.2" y="385.95">6</text><text x="45.2" y="395.21">5</text><text x="45.2" y="404.46">4</text><text x="45.2" y="413.72">3</text><text x="45.2" y="422.97">2</text></g>
<g font-size="11" fill="#505050" text-anchor="middle"><text x="52.7" y="438">-180</text><text x="118.9" y="438">0</text><text x="180.3" y="438">180</text></g>
<g fill="#505050"><text x="76.85" y="454" style='font-family:"Liberation Serif",serif;font-size:12px'>γ</text><text x="81.50" y="457.4" style='font-family:"Liberation Serif",serif;font-size:10px'>n</text><text x="89.40" y="454" font-size="11" text-anchor="middle">,</text><text x="103.25" y="454.5" style='font-family:"Liberation Serif",serif;font-size:12px' text-anchor="middle">δ</text><text x="109.00" y="457.6" style='font-family:"Liberation Serif",serif;font-size:10px' text-anchor="middle">n</text><text x="135.60" y="453.8" font-size="11" text-anchor="middle">[deg]</text></g>
<g fill="#505050" text-anchor="middle"><text transform="translate(15.20,263.40) rotate(-90)" font-size="11">V</text><text transform="translate(15.20,256.20) rotate(-90)" font-size="11">(</text><text transform="translate(15.20,250.00) rotate(-90)" style='font-family:"Liberation Serif",serif;font-size:12px'>γ</text><text transform="translate(15.20,246.20) rotate(-90)" font-size="11">)</text><text transform="translate(15.20,238.60) rotate(-90)" font-size="11">,</text><text transform="translate(15.20,224.50) rotate(-90)" font-size="11">V</text><text transform="translate(15.20,217.00) rotate(-90)" font-size="11">(</text><text transform="translate(15.20,211.10) rotate(-90)" style='font-family:"Liberation Serif",serif;font-size:12px'>δ</text><text transform="translate(15.20,206.30) rotate(-90)" font-size="11">)</text><text transform="translate(15.20,191.30) rotate(-90)" font-size="11">[</text><text transform="translate(15.20,185.50) rotate(-90)" font-size="11">k</text><text transform="translate(19.20,179.70) rotate(-90)" style='font-family:"Liberation Serif",serif;font-size:8px'>B</text><text transform="translate(15.20,173.00) rotate(-90)" font-size="11">T</text><text transform="translate(15.20,167.00) rotate(-90)" font-size="11">]</text></g>
<path d="M256.5 7V423h5.6V7zM381.3 7V423h-5.6V7z" fill="#d8d8d8"/>
<path d="M256.5 15.5H381.3M256.5 23.5H381.3M256.5 32.5H381.3M256.5 41.5H381.3M256.5 50.5H381.3M256.5 59.5H381.3M256.5 68.5H381.3M256.5 77.5H381.3M256.5 85.5H381.3M256.5 94.5H381.3M256.5 103.5H381.3M256.5 112.5H381.3M256.5 121.5H381.3M256.5 130.5H381.3M256.5 139.5H381.3M256.5 148.5H381.3M256.5 156.5H381.3M256.5 165.5H381.3M256.5 174.5H381.3M256.5 183.5H381.3M256.5 192.5H381.3M256.5 201.5H381.3M256.5 210.5H381.3M256.5 219.5H381.3M256.5 227.5H381.3M256.5 236.5H381.3M256.5 245.5H381.3M256.5 254.5H381.3M256.5 263.5H381.3M256.5 272.5H381.3M256.5 281.5H381.3M256.5 289.5H381.3M256.5 298.5H381.3M256.5 307.5H381.3M256.5 316.5H381.3M256.5 325.5H381.3M256.5 334.5H381.3M256.5 343.5H381.3M256.5 352.5H381.3M256.5 360.5H381.3M256.5 369.5H381.3M256.5 378.5H381.3M256.5 387.5H381.3M256.5 396.5H381.3M256.5 405.5H381.3M256.5 414.5H381.3" stroke="#151515" stroke-width="1.1" fill="none"/>
<path d="M256.5 8.2h5.6M381.3 8.2h-5.6M256.5 10.0h5.6M381.3 10.0h-5.6M256.5 11.8h5.6M381.3 11.8h-5.6M256.5 13.4h5.6M381.3 13.4h-5.6M256.5 17.0h5.6M381.3 17.0h-5.6M256.5 18.9h5.6M381.3 18.9h-5.6M256.5 20.7h5.6M381.3 20.7h-5.6M256.5 22.3h5.6M381.3 22.3h-5.6M256.5 25.9h5.6M381.3 25.9h-5.6M256.5 27.7h5.6M381.3 27.7h-5.6M256.5 29.6h5.6M381.3 29.6h-5.6M256.5 31.2h5.6M381.3 31.2h-5.6M256.5 34.8h5.6M381.3 34.8h-5.6M256.5 36.6h5.6M381.3 36.6h-5.6M256.5 38.4h5.6M381.3 38.4h-5.6M256.5 40.1h5.6M381.3 40.1h-5.6M256.5 43.7h5.6M381.3 43.7h-5.6M256.5 45.5h5.6M381.3 45.5h-5.6M256.5 47.3h5.6M381.3 47.3h-5.6M256.5 48.9h5.6M381.3 48.9h-5.6M256.5 52.5h5.6M381.3 52.5h-5.6M256.5 54.3h5.6M381.3 54.3h-5.6M256.5 56.2h5.6M381.3 56.2h-5.6M256.5 57.8h5.6M381.3 57.8h-5.6M256.5 61.4h5.6M381.3 61.4h-5.6M256.5 63.2h5.6M381.3 63.2h-5.6M256.5 65.0h5.6M381.3 65.0h-5.6M256.5 66.7h5.6M381.3 66.7h-5.6M256.5 70.3h5.6M381.3 70.3h-5.6M256.5 72.1h5.6M381.3 72.1h-5.6M256.5 73.9h5.6M381.3 73.9h-5.6M256.5 75.5h5.6M381.3 75.5h-5.6M256.5 79.1h5.6M381.3 79.1h-5.6M256.5 80.9h5.6M381.3 80.9h-5.6M256.5 82.8h5.6M381.3 82.8h-5.6M256.5 84.4h5.6M381.3 84.4h-5.6M256.5 88.0h5.6M381.3 88.0h-5.6M256.5 89.8h5.6M381.3 89.8h-5.6M256.5 91.6h5.6M381.3 91.6h-5.6M256.5 93.3h5.6M381.3 93.3h-5.6M256.5 96.9h5.6M381.3 96.9h-5.6M256.5 98.7h5.6M381.3 98.7h-5.6M256.5 100.5h5.6M381.3 100.5h-5.6M256.5 102.1h5.6M381.3 102.1h-5.6M256.5 105.7h5.6M381.3 105.7h-5.6M256.5 107.5h5.6M381.3 107.5h-5.6M256.5 109.4h5.6M381.3 109.4h-5.6M256.5 111.0h5.6M381.3 111.0h-5.6M256.5 114.6h5.6M381.3 114.6h-5.6M256.5 116.4h5.6M381.3 116.4h-5.6M256.5 118.2h5.6M381.3 118.2h-5.6M256.5 119.9h5.6M381.3 119.9h-5.6M256.5 123.5h5.6M381.3 123.5h-5.6M256.5 125.3h5.6M381.3 125.3h-5.6M256.5 127.1h5.6M381.3 127.1h-5.6M256.5 128.7h5.6M381.3 128.7h-5.6M256.5 132.3h5.6M381.3 132.3h-5.6M256.5 134.2h5.6M381.3 134.2h-5.6M256.5 136.0h5.6M381.3 136.0h-5.6M256.5 137.6h5.6M381.3 137.6h-5.6M256.5 141.2h5.6M381.3 141.2h-5.6M256.5 143.0h5.6M381.3 143.0h-5.6M256.5 144.8h5.6M381.3 144.8h-5.6M256.5 146.5h5.6M381.3 146.5h-5.6M256.5 150.1h5.6M381.3 150.1h-5.6M256.5 151.9h5.6M381.3 151.9h-5.6M256.5 153.7h5.6M381.3 153.7h-5.6M256.5 155.3h5.6M381.3 155.3h-5.6M256.5 158.9h5.6M381.3 158.9h-5.6M256.5 160.8h5.6M381.3 160.8h-5.6M256.5 162.6h5.6M381.3 162.6h-5.6M256.5 164.2h5.6M381.3 164.2h-5.6M256.5 167.8h5.6M381.3 167.8h-5.6M256.5 169.6h5.6M381.3 169.6h-5.6M256.5 171.4h5.6M381.3 171.4h-5.6M256.5 173.1h5.6M381.3 173.1h-5.6M256.5 176.7h5.6M381.3 176.7h-5.6M256.5 178.5h5.6M381.3 178.5h-5.6M256.5 180.3h5.6M381.3 180.3h-5.6M256.5 181.9h5.6M381.3 181.9h-5.6M256.5 185.5h5.6M381.3 185.5h-5.6M256.5 187.4h5.6M381.3 187.4h-5.6M256.5 189.2h5.6M381.3 189.2h-5.6M256.5 190.8h5.6M381.3 190.8h-5.6M256.5 194.4h5.6M381.3 194.4h-5.6M256.5 196.2h5.6M381.3 196.2h-5.6M256.5 198.0h5.6M381.3 198.0h-5.6M256.5 199.7h5.6M381.3 199.7h-5.6M256.5 203.3h5.6M381.3 203.3h-5.6M256.5 205.1h5.6M381.3 205.1h-5.6M256.5 206.9h5.6M381.3 206.9h-5.6M256.5 208.5h5.6M381.3 208.5h-5.6M256.5 212.1h5.6M381.3 212.1h-5.6M256.5 214.0h5.6M381.3 214.0h-5.6M256.5 215.8h5.6M381.3 215.8h-5.6M256.5 217.4h5.6M381.3 217.4h-5.6M256.5 221.0h5.6M381.3 221.0h-5.6M256.5 222.8h5.6M381.3 222.8h-5.6M256.5 224.7h5.6M381.3 224.7h-5.6M256.5 226.3h5.6M381.3 226.3h-5.6M256.5 229.9h5.6M381.3 229.9h-5.6M256.5 231.7h5.6M381.3 231.7h-5.6M256.5 233.5h5.6M381.3 233.5h-5.6M256.5 235.1h5.6M381.3 235.1h-5.6M256.5 238.8h5.6M381.3 238.8h-5.6M256.5 240.6h5.6M381.3 240.6h-5.6M256.5 242.4h5.6M381.3 242.4h-5.6M256.5 244.0h5.6M381.3 244.0h-5.6M256.5 247.6h5.6M381.3 247.6h-5.6M256.5 249.4h5.6M381.3 249.4h-5.6M256.5 251.3h5.6M381.3 251.3h-5.6M256.5 252.9h5.6M381.3 252.9h-5.6M256.5 256.5h5.6M381.3 256.5h-5.6M256.5 258.3h5.6M381.3 258.3h-5.6M256.5 260.1h5.6M381.3 260.1h-5.6M256.5 261.8h5.6M381.3 261.8h-5.6M256.5 265.4h5.6M381.3 265.4h-5.6M256.5 267.2h5.6M381.3 267.2h-5.6M256.5 269.0h5.6M381.3 269.0h-5.6M256.5 270.6h5.6M381.3 270.6h-5.6M256.5 274.2h5.6M381.3 274.2h-5.6M256.5 276.0h5.6M381.3 276.0h-5.6M256.5 277.9h5.6M381.3 277.9h-5.6M256.5 279.5h5.6M381.3 279.5h-5.6M256.5 283.1h5.6M381.3 283.1h-5.6M256.5 284.9h5.6M381.3 284.9h-5.6M256.5 286.7h5.6M381.3 286.7h-5.6M256.5 288.4h5.6M381.3 288.4h-5.6M256.5 292.0h5.6M381.3 292.0h-5.6M256.5 293.8h5.6M381.3 293.8h-5.6M256.5 295.6h5.6M381.3 295.6h-5.6M256.5 297.2h5.6M381.3 297.2h-5.6M256.5 300.8h5.6M381.3 300.8h-5.6M256.5 302.6h5.6M381.3 302.6h-5.6M256.5 304.5h5.6M381.3 304.5h-5.6M256.5 306.1h5.6M381.3 306.1h-5.6M256.5 309.7h5.6M381.3 309.7h-5.6M256.5 311.5h5.6M381.3 311.5h-5.6M256.5 313.3h5.6M381.3 313.3h-5.6M256.5 315.0h5.6M381.3 315.0h-5.6M256.5 318.6h5.6M381.3 318.6h-5.6M256.5 320.4h5.6M381.3 320.4h-5.6M256.5 322.2h5.6M381.3 322.2h-5.6M256.5 323.8h5.6M381.3 323.8h-5.6M256.5 327.4h5.6M381.3 327.4h-5.6M256.5 329.3h5.6M381.3 329.3h-5.6M256.5 331.1h5.6M381.3 331.1h-5.6M256.5 332.7h5.6M381.3 332.7h-5.6M256.5 336.3h5.6M381.3 336.3h-5.6M256.5 338.1h5.6M381.3 338.1h-5.6M256.5 339.9h5.6M381.3 339.9h-5.6M256.5 341.6h5.6M381.3 341.6h-5.6M256.5 345.2h5.6M381.3 345.2h-5.6M256.5 347.0h5.6M381.3 347.0h-5.6M256.5 348.8h5.6M381.3 348.8h-5.6M256.5 350.4h5.6M381.3 350.4h-5.6M256.5 354.0h5.6M381.3 354.0h-5.6M256.5 355.9h5.6M381.3 355.9h-5.6M256.5 357.7h5.6M381.3 357.7h-5.6M256.5 359.3h5.6M381.3 359.3h-5.6M256.5 362.9h5.6M381.3 362.9h-5.6M256.5 364.7h5.6M381.3 364.7h-5.6M256.5 366.5h5.6M381.3 366.5h-5.6M256.5 368.2h5.6M381.3 368.2h-5.6M256.5 371.8h5.6M381.3 371.8h-5.6M256.5 373.6h5.6M381.3 373.6h-5.6M256.5 375.4h5.6M381.3 375.4h-5.6M256.5 377.0h5.6M381.3 377.0h-5.6M256.5 380.6h5.6M381.3 380.6h-5.6M256.5 382.5h5.6M381.3 382.5h-5.6M256.5 384.3h5.6M381.3 384.3h-5.6M256.5 385.9h5.6M381.3 385.9h-5.6M256.5 389.5h5.6M381.3 389.5h-5.6M256.5 391.3h5.6M381.3 391.3h-5.6M256.5 393.1h5.6M381.3 393.1h-5.6M256.5 394.8h5.6M381.3 394.8h-5.6M256.5 398.4h5.6M381.3 398.4h-5.6M256.5 400.2h5.6M381.3 400.2h-5.6M256.5 402.0h5.6M381.3 402.0h-5.6M256.5 403.6h5.6M381.3 403.6h-5.6M256.5 407.2h5.6M381.3 407.2h-5.6M256.5 409.1h5.6M381.3 409.1h-5.6M256.5 410.9h5.6M381.3 410.9h-5.6M256.5 412.5h5.6M381.3 412.5h-5.6M256.5 416.1h5.6M381.3 416.1h-5.6M256.5 417.9h5.6M381.3 417.9h-5.6M256.5 419.8h5.6M381.3 419.8h-5.6M256.5 421.4h5.6M381.3 421.4h-5.6" stroke="#1e1e1e" stroke-width="1.2" fill="none"/>
<path d="M256.5 10.9 263.4 11.0 269.7 10.5 271.8 10.5 297.4 10.6 303.6 10.4 305.7 10.5 309.9 10.9 312.0 11.0 314.0 10.9 318.9 10.5 323.8 10.3 330.7 9.9 337.6 10.2 344.6 10.9 347.3 11.0 365.4 10.8 374.4 10.9 381.3 10.6M256.5 19.6 267.6 19.7 271.1 19.7 277.3 19.4 283.5 19.6 286.3 19.5 294.6 18.9 300.9 17.9 303.6 17.7 306.4 17.9 314.7 19.0 317.5 19.2 321.0 19.4 334.8 19.4 347.3 19.9 365.4 19.5 368.1 19.5 374.4 19.8 381.3 19.7M256.5 28.8 269.7 28.5 279.4 28.8 289.1 28.7 292.6 28.4 297.4 27.6 300.2 27.2 303.6 26.9 306.4 26.8 309.2 26.9 316.1 27.5 324.4 28.3 332.1 28.9 345.2 28.5 353.6 28.7 360.5 28.6 367.4 28.7 373.7 28.5 376.4 28.6 381.3 29.0M256.5 38.4 263.4 38.3 270.4 38.4 277.3 37.8 279.4 37.9 283.5 38.3 287.0 38.3 296.0 37.6 298.8 37.1 303.6 36.1 305.0 35.9 307.1 35.7 309.2 35.8 312.0 36.2 319.6 37.5 325.8 37.7 332.1 38.3 334.2 38.3 339.0 37.9 341.1 37.8 352.9 38.0 360.5 38.4 367.4 38.0 371.6 37.9 375.8 37.9 381.3 38.0M256.5 46.4 262.7 46.7 268.3 46.9 271.1 46.8 277.3 46.4 284.2 46.7 288.4 46.7 290.5 46.5 292.6 46.2 298.1 45.0 300.9 44.6 303.0 44.3 304.3 44.3 307.1 44.6 311.3 45.4 313.4 45.7 325.8 46.4 345.9 46.8 353.6 46.3 361.2 46.8 373.0 46.6 381.3 46.6M256.5 55.5 269.0 55.2 271.1 55.3 277.3 55.7 281.5 55.5 287.0 55.1 289.8 54.8 291.9 54.4 297.4 52.8 298.8 52.6 300.2 52.5 303.0 52.7 307.8 53.4 311.3 53.9 316.8 55.1 319.6 55.4 325.8 55.3 330.0 55.3 341.1 55.9 356.3 55.8 360.5 55.6 367.4 55.2 374.4 55.6 381.3 55.6M256.5 64.5 263.4 64.6 269.0 64.2 271.8 64.1 277.3 64.3 282.8 64.6 284.9 64.5 287.0 64.3 291.2 63.6 297.4 62.8 300.2 62.2 305.7 60.9 307.8 60.6 309.9 60.9 314.0 62.1 316.8 62.8 323.1 64.0 325.8 64.3 327.9 64.3 332.8 64.1 339.7 64.4 347.3 64.2 359.8 64.8 361.9 64.7 366.7 64.2 370.2 64.1 375.1 64.2 381.3 64.6M256.5 73.8 262.7 73.3 264.8 73.3 270.4 73.7 276.6 73.2 280.1 73.2 284.9 73.3 289.8 73.7 291.9 73.8 310.6 73.1 313.4 73.2 318.2 73.5 322.4 73.6 326.5 73.4 330.7 73.0 332.8 72.9 345.2 73.5 359.1 73.8 361.9 73.7 367.4 73.2 371.6 73.2 375.8 73.4 381.3 73.8M256.5 81.8 276.6 81.8 283.5 81.5 285.6 81.6 291.2 82.2 298.1 81.9 305.7 82.2 312.0 82.0 318.2 81.6 323.8 81.5 326.5 81.6 330.7 82.0 332.8 82.1 339.7 81.7 346.6 82.0 354.3 81.8 365.4 82.2 370.2 82.3 375.1 82.2 381.3 81.9M256.5 91.0 263.4 91.1 271.1 90.6 277.3 90.6 284.2 90.5 291.9 90.5 301.6 90.1 308.5 89.9 332.1 90.7 339.7 90.5 347.3 90.8 359.8 90.6 368.1 90.8 381.3 90.8M256.5 99.4 264.8 99.3 278.7 99.0 284.2 99.1 290.5 99.5 294.6 99.6 305.0 99.4 312.0 99.5 324.4 99.1 327.2 99.2 332.1 99.5 335.5 99.6 340.4 99.5 345.2 99.2 347.3 99.1 360.5 99.6 374.4 99.2 381.3 99.4M256.5 108.9 263.4 108.6 271.1 108.7 277.3 108.4 282.8 108.6 284.9 108.6 288.4 108.1 297.4 106.3 299.5 106.0 300.9 106.0 303.0 106.1 305.0 106.3 312.0 107.7 314.7 108.1 316.8 108.3 319.6 108.5 332.1 108.4 339.7 108.8 347.3 108.4 361.2 108.8 374.4 108.5 381.3 108.5M256.5 117.1 263.4 117.2 270.4 117.1 278.0 117.4 288.4 117.2 290.5 117.0 292.6 116.7 298.1 115.4 300.2 115.0 302.3 114.8 304.3 114.7 306.4 114.8 308.5 115.1 316.8 116.7 318.9 117.0 321.7 117.2 327.9 117.3 345.9 117.2 353.6 117.5 360.5 117.3 367.4 117.7 381.3 117.3M256.5 125.9 263.4 126.0 270.4 125.8 278.0 126.1 285.6 126.0 289.1 125.8 292.6 125.4 300.9 124.0 303.0 123.9 305.7 123.8 309.2 124.0 313.4 124.6 318.9 125.3 324.4 126.2 326.5 126.3 339.0 126.0 355.6 125.9 361.2 125.9 373.0 126.3 381.3 126.2M256.5 134.8 263.4 134.7 270.4 135.0 277.3 134.8 282.2 135.1 284.2 135.1 286.3 134.9 291.9 133.8 298.8 132.8 300.9 132.5 303.0 132.4 304.3 132.4 306.4 132.6 312.0 133.7 314.7 134.1 326.5 134.8 332.8 135.3 336.2 135.3 346.6 134.9 353.6 135.0 361.2 134.7 367.4 134.8 374.4 134.8 381.3 135.1M256.5 143.8 263.4 143.6 270.4 144.1 277.3 143.5 282.8 144.0 284.9 144.0 298.8 142.3 305.0 142.3 309.9 142.0 311.3 142.0 312.7 142.2 317.5 143.4 318.9 143.6 321.0 143.8 323.8 144.0 326.5 144.0 332.8 143.6 339.7 143.9 345.9 143.6 350.8 143.5 354.3 143.5 360.5 143.8 372.3 143.5 381.3 143.6M256.5 152.8 263.4 152.9 270.4 152.9 276.6 153.3 278.7 153.2 283.5 152.6 289.8 152.1 293.9 151.5 297.4 150.7 302.3 148.8 303.6 148.5 304.3 148.5 305.0 148.6 306.4 148.9 310.6 150.7 313.4 151.7 316.1 152.3 319.6 152.8 325.8 152.7 331.4 153.1 333.5 153.1 345.9 152.6 348.0 152.7 351.5 153.2 353.6 153.3 355.6 153.3 359.8 153.0 363.3 152.9 368.1 153.0 374.4 153.2 381.3 153.2M256.5 161.9 262.0 161.6 265.5 161.6 281.5 162.0 285.6 162.0 289.1 161.9 291.9 161.7 293.9 161.4 296.7 160.8 303.0 159.3 305.0 158.9 307.1 158.8 309.2 158.9 311.3 159.2 323.8 161.6 325.8 161.8 328.6 162.0 333.5 162.0 339.7 161.7 346.6 162.0 359.1 162.0 367.4 161.6 374.4 161.7 381.3 161.7M256.5 170.4 263.4 170.4 270.4 170.7 277.3 170.3 284.2 170.6 288.4 170.6 290.5 170.5 292.6 170.3 297.4 169.3 299.5 169.0 302.3 168.8 306.4 168.7 310.6 169.0 316.8 170.0 319.6 170.3 324.4 170.6 327.2 170.6 338.3 170.2 348.7 170.5 357.7 170.6 374.4 170.5 381.3 170.2M256.5 179.7 262.7 179.3 264.8 179.3 269.7 179.7 273.1 179.7 278.7 179.6 290.5 179.2 293.2 178.9 296.0 178.5 299.5 177.7 304.3 176.4 306.4 176.2 307.8 176.3 309.2 176.6 315.4 178.5 317.5 179.1 318.9 179.3 320.3 179.4 326.5 179.3 339.7 179.8 346.6 179.5 354.3 179.9 367.4 179.3 381.3 179.4M256.5 187.9 263.4 187.7 270.4 188.1 275.9 188.2 287.7 187.7 297.4 187.6 305.0 187.7 311.3 187.5 318.2 187.8 320.3 187.7 325.1 187.1 327.9 187.0 331.4 187.1 339.7 187.7 344.6 187.9 350.1 187.9 361.2 187.6 366.0 187.7 374.4 188.1 381.3 188.0M256.5 196.3 261.4 196.7 263.4 196.8 270.4 196.6 274.5 196.5 285.6 196.7 293.9 196.7 298.1 196.5 303.6 195.6 305.7 195.4 308.5 195.6 315.4 196.5 318.9 196.7 327.2 196.2 345.9 196.5 352.9 196.3 355.0 196.4 359.1 196.8 361.2 196.9 373.7 196.2 376.4 196.3 381.3 196.7M256.5 206.1 269.7 206.0 277.3 206.2 283.5 206.0 286.3 205.7 289.1 205.3 299.5 203.5 301.6 203.3 303.6 203.2 306.4 203.3 309.2 203.6 312.0 204.1 317.5 205.4 320.3 205.8 326.5 205.7 332.8 205.9 339.7 205.6 346.6 205.9 353.6 205.6 359.1 206.1 361.2 206.2 364.7 206.1 372.3 205.6 374.4 205.5 376.4 205.6 381.3 206.1M256.5 214.7 273.1 215.0 278.0 214.9 283.5 214.3 289.8 213.8 291.9 213.4 297.4 212.2 299.5 211.9 300.9 211.8 303.6 212.0 307.1 212.4 311.3 213.2 316.8 214.5 318.9 214.8 321.0 214.8 325.8 214.4 332.8 214.9 339.7 214.5 350.1 214.9 354.3 214.9 360.5 214.7 366.7 215.0 368.8 214.9 374.4 214.5 381.3 214.7M256.5 223.8 263.4 223.9 282.2 223.5 288.4 223.7 290.5 223.6 293.2 223.2 297.4 222.2 299.5 221.8 302.3 221.5 305.7 221.4 307.8 221.5 309.9 221.7 316.1 222.8 318.9 223.2 321.0 223.3 326.5 223.3 332.1 223.6 341.1 223.4 353.6 223.8 359.8 223.4 363.3 223.4 367.4 223.5 372.3 223.8 374.4 223.9 376.4 223.8 381.3 223.3M256.5 231.9 269.7 232.3 277.3 232.1 283.5 232.4 286.3 232.4 291.2 232.3 296.7 232.0 298.8 231.9 312.0 232.4 325.1 232.1 332.8 232.3 339.7 232.1 346.6 232.4 353.6 232.2 360.5 232.2 366.7 232.1 374.4 232.2 381.3 232.2M256.5 241.0 263.4 240.8 271.1 241.3 277.3 241.4 284.2 241.0 291.2 241.1 299.5 240.5 309.9 240.2 313.4 240.3 325.1 241.0 332.8 241.1 339.7 241.3 346.6 241.2 353.6 240.9 361.2 241.1 381.3 240.9M256.5 250.2 263.4 250.6 269.0 250.1 271.1 250.1 275.9 250.4 278.0 250.4 284.2 250.1 291.9 249.9 300.2 249.1 309.9 248.6 312.7 248.8 317.5 249.9 319.6 250.1 325.1 250.0 327.9 250.0 333.5 250.2 339.7 250.5 343.9 250.6 354.3 250.5 366.7 250.6 374.4 250.6 381.3 250.6M256.5 259.2 264.1 259.3 275.2 259.3 284.2 259.0 291.2 259.0 293.2 258.8 296.0 258.4 299.5 257.7 305.7 256.0 307.8 255.7 309.2 255.6 310.6 255.8 312.0 256.1 316.1 257.5 318.9 258.2 321.7 258.6 324.4 258.8 339.7 259.0 346.6 258.7 352.2 258.7 354.3 258.7 359.1 259.2 361.2 259.3 370.9 259.0 381.3 259.0M256.5 268.2 263.4 268.1 270.4 267.6 275.9 268.0 278.7 267.9 283.5 267.5 290.5 267.0 298.8 265.7 302.3 265.5 304.3 265.5 306.4 265.8 314.0 267.0 325.1 268.1 327.2 268.1 332.8 267.6 339.7 268.1 346.6 267.7 352.2 268.0 354.3 268.0 361.2 267.6 374.4 268.2 381.3 268.0M256.5 276.7 263.4 276.9 270.4 276.4 276.6 277.0 278.7 277.0 287.7 276.7 293.2 276.2 296.0 275.8 298.1 275.4 303.6 273.8 305.0 273.6 306.4 273.6 309.2 273.9 316.1 275.3 319.6 275.9 322.4 276.1 332.8 276.8 339.7 277.0 346.6 276.8 352.2 276.7 359.8 277.1 361.9 277.0 367.4 276.5 374.4 276.8 381.3 276.8M256.5 285.9 263.4 285.9 269.7 286.2 271.8 286.1 277.3 285.5 284.9 285.7 289.8 285.6 293.9 285.1 296.7 284.5 302.3 283.1 304.3 282.8 305.7 282.7 307.1 282.8 309.2 283.1 316.1 284.7 319.6 285.4 322.4 285.8 325.1 286.0 327.2 286.0 332.8 285.5 340.4 285.9 353.6 285.6 361.2 285.9 373.7 285.6 381.3 285.6M256.5 295.1 269.7 295.3 277.3 294.8 282.8 295.1 285.6 295.1 288.4 294.8 291.9 294.2 299.5 292.3 301.6 292.0 303.6 291.9 305.7 292.0 307.8 292.3 314.7 293.8 318.2 294.4 321.7 294.8 325.1 295.1 332.1 295.2 339.7 294.9 347.3 295.3 357.7 295.0 367.4 295.1 373.7 295.0 381.3 295.2M256.5 303.3 271.1 303.7 275.2 303.7 278.0 303.6 283.5 303.1 296.0 302.3 298.1 302.0 303.0 300.8 304.3 300.6 305.7 300.5 307.8 300.7 314.0 301.9 318.2 302.5 323.1 302.9 330.0 303.3 333.5 303.3 339.7 303.0 348.0 303.5 364.7 303.6 368.1 303.5 374.4 303.0 381.3 303.1M256.5 312.0 269.0 312.4 271.1 312.4 277.3 312.0 284.2 312.3 287.0 312.1 299.5 310.2 301.6 309.9 303.6 309.9 305.7 310.0 308.5 310.3 318.2 312.2 322.4 312.5 326.5 312.5 332.8 312.2 338.3 312.1 345.9 312.4 353.6 312.2 360.5 312.4 366.0 312.5 368.8 312.4 374.4 312.0 381.3 312.0M256.5 320.6 261.4 320.9 264.1 321.0 276.6 320.6 278.7 320.7 283.5 321.1 286.3 321.1 294.6 320.3 297.4 319.9 303.6 318.7 307.1 318.5 309.2 318.6 311.3 318.8 313.4 319.2 317.5 320.3 319.6 320.6 321.7 320.9 324.4 321.0 327.2 321.0 339.0 320.6 346.6 320.8 352.2 320.9 359.8 320.8 368.1 320.6 374.4 320.8 381.3 320.9M256.5 330.5 262.7 330.1 264.8 330.2 269.0 330.6 271.1 330.6 289.1 330.2 291.2 330.0 292.6 329.7 298.1 328.4 300.2 328.0 302.3 327.8 304.3 327.7 305.7 327.7 307.8 327.9 314.0 329.0 319.6 329.7 323.8 330.1 331.4 330.6 334.2 330.6 340.4 330.2 346.6 330.4 353.6 330.4 360.5 330.6 374.4 330.2 381.3 330.4M256.5 338.5 262.7 338.7 270.4 338.6 280.8 338.9 284.2 338.9 287.0 338.7 291.2 338.2 300.2 336.7 302.3 336.5 304.3 336.4 307.8 336.6 314.7 337.7 325.1 338.7 332.8 338.6 339.7 339.0 346.6 338.8 353.6 338.7 360.5 338.5 367.4 338.7 374.4 339.0 381.3 338.9M256.5 347.9 264.1 347.8 276.6 348.0 284.2 347.7 287.7 347.5 291.2 347.0 300.2 345.3 302.3 345.1 305.0 345.0 307.1 345.1 309.2 345.3 316.1 346.5 319.6 347.0 326.5 347.4 332.8 348.0 350.8 347.8 360.5 348.0 367.4 347.8 374.4 348.0 381.3 347.8M256.5 357.0 264.1 356.5 277.3 356.6 287.0 356.3 293.2 355.9 300.9 355.0 306.4 354.8 309.2 354.9 311.3 355.1 316.8 356.0 319.6 356.4 330.7 356.5 333.5 356.6 339.0 357.0 341.1 357.0 345.9 356.5 350.8 356.3 354.3 356.4 359.1 356.9 361.2 357.0 367.4 356.8 374.4 356.9 381.3 356.4M256.5 365.0 269.7 365.0 284.2 365.3 298.8 364.6 310.6 363.8 314.7 363.7 320.3 363.8 326.5 364.2 332.8 364.5 339.7 365.0 359.1 364.9 370.2 365.3 381.3 365.3M256.5 374.3 262.0 374.5 264.8 374.5 281.5 374.0 289.1 373.8 293.9 373.5 301.6 372.5 305.0 372.3 307.1 372.4 309.9 372.6 318.2 373.9 320.3 374.0 325.8 373.9 332.1 374.5 334.2 374.5 339.0 373.9 341.1 373.8 346.6 373.9 353.6 373.9 360.5 374.3 366.0 373.9 368.1 373.9 374.4 374.2 381.3 374.4M256.5 383.0 262.0 383.3 265.5 383.4 276.6 383.4 283.5 383.0 287.0 383.0 291.2 383.0 296.0 383.3 298.1 383.4 303.6 382.8 305.0 382.8 312.0 383.4 314.0 383.3 318.9 382.8 324.4 382.6 332.8 382.6 339.7 382.7 345.9 382.4 348.0 382.5 353.6 383.0 361.2 383.1 367.4 383.6 374.4 383.4 381.3 383.9M256.5 392.3 263.4 391.7 273.8 391.6 282.2 391.1 284.2 391.2 289.8 392.0 291.9 392.1 299.5 391.8 305.0 391.6 318.2 392.0 327.2 391.7 339.0 392.2 341.1 392.2 345.9 391.8 349.4 391.7 366.7 391.8 374.4 392.2 381.3 391.8M256.5 400.6 277.3 401.0 284.2 401.0 287.7 400.8 291.2 400.4 300.2 399.2 302.3 399.1 305.0 399.0 308.5 399.2 324.4 400.7 330.7 401.0 333.5 401.0 339.7 400.7 345.9 401.0 350.1 401.0 354.3 400.9 359.8 400.5 364.0 400.5 373.7 400.5 381.3 401.0M256.5 409.4 263.4 409.6 270.4 409.6 278.0 409.7 288.4 409.5 292.6 409.1 301.6 407.4 304.3 407.2 305.7 407.2 307.1 407.4 311.3 408.4 313.4 408.7 318.9 409.1 323.8 409.7 325.8 409.8 332.8 409.4 341.1 409.8 350.8 409.8 354.3 409.6 360.5 409.1 366.7 409.3 373.0 408.9 375.8 409.0 381.3 409.5M256.5 418.6 263.4 418.5 270.4 418.6 277.3 418.4 282.2 418.4 297.4 418.7 305.0 418.6 312.0 419.0 318.9 418.7 325.8 418.8 330.7 418.8 333.5 418.7 339.7 418.2 346.6 418.6 352.2 418.2 355.0 418.2 367.4 418.8 374.4 418.5 381.3 418.4" stroke="#111" stroke-width="1.2" fill="none" stroke-linejoin="round"/>
<path d="M256.5 11.6 381.3 11.6M256.5 20.6 284.2 20.5 289.8 20.3 299.5 19.8 303.6 19.8 307.8 19.9 318.2 20.4 325.1 20.5 381.3 20.6M256.5 29.6 280.8 29.6 288.4 29.4 294.6 29.0 304.3 27.8 308.5 27.6 312.7 27.8 323.1 29.1 329.3 29.5 338.3 29.6 381.3 29.6M256.5 39.0 280.8 39.0 288.4 38.8 291.9 38.6 294.6 38.3 304.3 36.8 306.4 36.6 308.5 36.6 310.6 36.7 312.7 36.9 323.1 38.4 329.3 38.9 338.3 39.0 381.3 39.0M256.5 47.4 279.4 47.4 286.3 47.3 291.9 46.8 300.9 45.4 304.3 45.2 307.8 45.5 314.7 46.6 317.5 47.0 320.3 47.2 323.8 47.4 332.1 47.4 381.3 47.4M256.5 56.3 277.3 56.3 284.2 56.1 287.0 55.9 289.8 55.5 298.8 53.5 300.9 53.3 302.3 53.3 303.6 53.4 305.7 53.7 312.7 55.2 315.4 55.7 318.2 56.0 321.7 56.2 330.0 56.3 381.3 56.3M256.5 65.3 278.7 65.2 286.3 65.0 289.8 64.7 292.6 64.3 302.3 62.4 304.3 62.1 306.4 62.1 308.5 62.2 310.6 62.5 318.2 64.1 321.0 64.5 323.8 64.9 327.2 65.1 336.2 65.3 381.3 65.3M256.5 74.3 304.3 74.3 329.3 74.0 352.2 74.3 381.3 74.3M256.5 82.7 381.3 82.7M256.5 91.6 288.4 91.5 294.6 91.2 304.3 90.5 308.5 90.4 312.7 90.6 323.1 91.3 329.3 91.5 381.3 91.6M256.5 100.1 381.3 100.1M256.5 109.4 277.3 109.4 284.2 109.2 287.0 109.0 289.8 108.6 298.8 106.9 300.9 106.7 302.3 106.7 305.7 107.0 312.7 108.4 315.4 108.8 318.2 109.1 321.7 109.3 330.0 109.4 381.3 109.4M256.5 118.2 279.4 118.2 286.3 118.0 289.1 117.8 291.9 117.4 300.9 115.6 303.0 115.4 304.3 115.3 305.7 115.4 307.8 115.7 314.7 117.2 317.5 117.6 320.3 117.9 323.8 118.1 332.1 118.2 381.3 118.2M256.5 126.9 281.5 126.9 288.4 126.7 291.2 126.5 293.9 126.2 303.0 124.5 305.0 124.3 306.4 124.3 309.9 124.6 318.9 126.3 321.7 126.6 325.1 126.8 333.5 126.9 381.3 126.9M256.5 135.8 278.7 135.7 285.6 135.6 288.4 135.3 291.2 135.0 299.5 133.4 303.0 133.2 305.0 133.3 307.1 133.5 313.4 134.7 316.1 135.2 318.9 135.5 322.4 135.7 330.7 135.8 381.3 135.8M256.5 144.6 281.5 144.6 288.4 144.5 293.9 144.1 303.0 142.9 306.4 142.7 309.9 142.9 318.9 144.2 325.1 144.5 333.5 144.6 381.3 144.6M256.5 153.8 279.4 153.8 286.3 153.6 289.1 153.3 291.9 152.9 298.8 151.2 300.9 150.8 303.0 150.6 304.3 150.6 305.7 150.7 307.8 151.0 314.7 152.6 317.5 153.1 320.3 153.5 323.8 153.7 332.1 153.8 381.3 153.8M256.5 162.6 282.2 162.6 289.1 162.5 293.9 161.9 296.7 161.4 303.0 160.0 305.0 159.7 307.1 159.5 309.2 159.7 311.3 160.0 317.5 161.4 320.3 161.9 323.1 162.3 326.5 162.5 334.8 162.6 381.3 162.6M256.5 171.3 281.5 171.3 288.4 171.2 293.9 170.7 303.0 169.5 306.4 169.3 309.9 169.5 318.9 170.8 321.7 171.1 325.1 171.2 333.5 171.3 381.3 171.3M256.5 180.4 281.5 180.4 288.4 180.2 293.9 179.8 303.0 178.4 306.4 178.3 309.9 178.5 318.9 179.9 321.7 180.1 325.1 180.3 333.5 180.4 381.3 180.4M256.5 188.7 307.8 188.7 314.0 188.5 325.1 187.9 329.3 187.8 333.5 187.9 345.2 188.5 361.9 188.3 381.3 188.7M256.5 197.4 381.3 197.4M256.5 206.7 280.1 206.6 287.0 206.5 291.9 206.0 294.6 205.5 300.9 204.2 303.0 204.0 305.0 203.9 307.1 204.0 309.2 204.2 315.4 205.5 318.2 206.0 321.0 206.3 324.4 206.5 332.8 206.7 381.3 206.7M256.5 215.5 277.3 215.5 284.2 215.3 287.0 215.1 289.8 214.8 298.8 213.0 300.9 212.8 302.3 212.8 305.7 213.1 312.7 214.5 315.4 215.0 318.2 215.2 321.7 215.4 330.0 215.5 381.3 215.5M256.5 224.4 281.5 224.4 288.4 224.2 293.9 223.8 303.0 222.4 306.4 222.2 309.9 222.4 318.9 223.8 321.7 224.1 325.1 224.3 333.5 224.4 381.3 224.4M256.5 232.9 381.3 232.9M256.5 241.9 288.4 241.9 308.5 241.3 323.1 241.8 329.3 241.9 381.3 241.9M256.5 251.2 288.4 251.1 294.6 250.8 304.3 250.2 308.5 250.1 312.7 250.2 323.1 250.9 329.3 251.1 381.3 251.2M256.5 259.8 282.8 259.8 290.5 259.6 293.2 259.4 296.0 259.1 305.0 257.4 307.1 257.2 308.5 257.2 312.0 257.5 321.0 259.2 323.8 259.5 327.2 259.7 335.5 259.8 381.3 259.8M256.5 268.7 278.7 268.7 285.6 268.5 288.4 268.3 291.2 267.9 299.5 266.4 303.0 266.2 305.0 266.3 307.1 266.5 313.4 267.7 316.1 268.1 318.9 268.4 322.4 268.6 330.7 268.7 381.3 268.7M256.5 277.5 281.5 277.5 288.4 277.4 291.2 277.1 293.9 276.7 303.0 274.9 305.0 274.7 306.4 274.7 307.8 274.7 309.9 275.0 318.9 276.8 321.7 277.2 325.1 277.4 333.5 277.5 381.3 277.5M256.5 286.6 281.5 286.6 288.4 286.4 291.2 286.2 293.9 285.8 303.0 283.9 305.0 283.6 306.4 283.6 307.8 283.7 309.9 284.0 318.9 285.9 321.7 286.2 325.1 286.5 333.5 286.6 381.3 286.6M256.5 295.8 280.1 295.8 287.0 295.6 289.8 295.3 291.9 295.1 294.6 294.5 300.9 293.0 303.0 292.7 305.0 292.6 307.1 292.7 309.2 293.0 315.4 294.5 318.2 295.1 321.0 295.4 324.4 295.6 332.8 295.8 381.3 295.8M256.5 304.1 280.1 304.1 287.0 304.0 291.9 303.6 294.6 303.1 300.9 302.0 303.0 301.7 305.0 301.6 307.1 301.7 309.2 302.0 315.4 303.1 318.2 303.6 321.0 303.9 324.4 304.0 332.8 304.1 381.3 304.1M256.5 313.0 278.7 313.0 285.6 312.8 288.4 312.6 291.2 312.3 299.5 311.0 303.0 310.8 305.0 310.9 307.1 311.1 316.1 312.5 318.9 312.7 322.4 312.9 330.7 313.0 381.3 313.0M256.5 321.7 281.5 321.6 288.4 321.5 293.9 321.0 303.0 319.6 306.4 319.5 309.9 319.7 318.9 321.1 321.7 321.4 325.1 321.6 333.5 321.7 381.3 321.7M256.5 331.2 280.1 331.2 287.0 331.0 291.9 330.6 294.6 330.1 300.9 328.9 303.0 328.7 305.0 328.6 307.1 328.7 309.2 328.9 315.4 330.1 318.2 330.6 321.0 330.9 324.4 331.1 332.8 331.2 381.3 331.2M256.5 339.6 280.1 339.6 287.0 339.4 291.9 339.0 294.6 338.5 300.9 337.3 303.0 337.0 305.0 336.9 307.1 337.0 309.2 337.3 315.4 338.5 318.2 339.0 321.0 339.3 324.4 339.5 332.8 339.6 381.3 339.6M256.5 348.5 280.1 348.5 287.0 348.4 291.9 347.9 294.6 347.4 300.9 346.1 303.0 345.8 305.0 345.7 307.1 345.8 309.2 346.1 315.4 347.4 318.2 347.9 321.0 348.2 324.4 348.4 332.8 348.5 381.3 348.5M256.5 357.5 280.1 357.5 287.0 357.4 291.9 357.0 300.9 355.6 303.0 355.4 305.0 355.3 307.1 355.4 309.2 355.6 318.2 357.0 321.0 357.3 324.4 357.4 332.8 357.5 381.3 357.5M256.5 366.0 275.9 365.9 286.3 365.8 294.6 365.5 309.2 364.7 315.4 364.6 321.7 364.7 336.9 365.5 345.2 365.8 356.3 365.9 381.3 366.0M256.5 375.0 279.4 375.0 286.3 374.9 291.9 374.5 300.9 373.3 304.3 373.1 307.8 373.3 317.5 374.6 323.8 375.0 381.3 375.0M256.5 383.9 314.7 383.9 321.7 383.7 332.8 383.3 336.9 383.3 352.2 383.8 365.4 384.0 377.1 384.5 381.3 384.6M256.5 392.7 381.3 392.7M256.5 401.6 280.1 401.6 287.0 401.5 291.9 401.2 300.9 400.0 303.0 399.8 305.0 399.7 307.1 399.8 309.2 400.0 318.2 401.2 324.4 401.5 332.8 401.6 381.3 401.6M256.5 410.5 279.4 410.5 286.3 410.3 291.2 409.9 300.2 408.3 303.6 408.0 305.7 408.0 307.8 408.3 314.7 409.5 317.5 410.0 320.3 410.2 323.8 410.4 332.1 410.5 354.3 410.4 359.1 410.3 367.4 409.8 370.9 409.7 374.4 409.8 381.3 410.2M256.5 419.4 327.9 419.4 350.1 419.0 367.4 419.4 381.3 419.4" stroke="#e20e0e" stroke-width="1.9" fill="none" stroke-linejoin="round"/>
<path d="M318.9 7.0V423.5" stroke="#111" stroke-width="1"/>
<path d="M277.3 7.0v4.3M277.3 423.5v-4.3M298.1 7.0v4.3M298.1 423.5v-4.3M339.7 7.0v4.3M339.7 423.5v-4.3M360.5 7.0v4.3M360.5 423.5v-4.3" stroke="#111" stroke-width="1"/>
<rect x="256.5" y="7.4" width="124.8" height="415.6" fill="none" stroke="#000" stroke-width="1.3"/>
<g font-size="11" fill="#505050" text-anchor="end"><text x="249.0" y="15.53">93</text><text x="249.0" y="24.39">92</text><text x="249.0" y="33.25">91</text><text x="249.0" y="42.12">90</text><text x="249.0" y="50.98">89</text><text x="249.0" y="59.84">88</text><text x="249.0" y="68.70">87</text><text x="249.0" y="77.56">86</text><text x="249.0" y="86.42">85</text><text x="249.0" y="95.29">84</text><text x="249.0" y="104.15">83</text><text x="249.0" y="113.01">82</text><text x="249.0" y="121.87">81</text><text x="249.0" y="130.73">80</text><text x="249.0" y="139.59">79</text><text x="249.0" y="148.46">78</text><text x="249.0" y="157.32">77</text><text x="249.0" y="166.18">76</text><text x="249.0" y="175.04">75</text><text x="249.0" y="183.90">74</text><text x="249.0" y="192.76">73</text><text x="249.0" y="201.63">72</text><text x="249.0" y="210.49">71</text><text x="249.0" y="219.35">70</text><text x="249.0" y="228.21">69</text><text x="249.0" y="237.07">68</text><text x="249.0" y="245.94">67</text><text x="249.0" y="254.80">66</text><text x="249.0" y="263.66">65</text><text x="249.0" y="272.52">64</text><text x="249.0" y="281.38">63</text><text x="249.0" y="290.24">62</text><text x="249.0" y="299.11">61</text><text x="249.0" y="307.97">60</text><text x="249.0" y="316.83">59</text><text x="249.0" y="325.69">58</text><text x="249.0" y="334.55">57</text><text x="249.0" y="343.41">56</text><text x="249.0" y="352.28">55</text><text x="249.0" y="361.14">54</text><text x="249.0" y="370.00">53</text><text x="249.0" y="378.86">52</text><text x="249.0" y="387.72">51</text><text x="249.0" y="396.58">50</text><text x="249.0" y="405.45">49</text><text x="249.0" y="414.31">48</text><text x="249.0" y="423.17">47</text></g>
<g font-size="11" fill="#505050" text-anchor="middle"><text x="256.8" y="438">-180</text><text x="322.9" y="438">0</text><text x="384.3" y="438">180</text></g>
<g fill="#505050"><text x="280.90" y="454" style='font-family:"Liberation Serif",serif;font-size:12px'>γ</text><text x="285.55" y="457.4" style='font-family:"Liberation Serif",serif;font-size:10px'>n</text><text x="293.45" y="454" font-size="11" text-anchor="middle">,</text><text x="307.30" y="454.5" style='font-family:"Liberation Serif",serif;font-size:12px' text-anchor="middle">δ</text><text x="313.05" y="457.6" style='font-family:"Liberation Serif",serif;font-size:10px' text-anchor="middle">n</text><text x="339.65" y="453.8" font-size="11" text-anchor="middle">[deg]</text></g>
<g fill="#505050" text-anchor="middle"><text transform="translate(219.50,263.40) rotate(-90)" font-size="11">V</text><text transform="translate(219.50,256.20) rotate(-90)" font-size="11">(</text><text transform="translate(219.50,250.00) rotate(-90)" style='font-family:"Liberation Serif",serif;font-size:12px'>γ</text><text transform="translate(219.50,246.20) rotate(-90)" font-size="11">)</text><text transform="translate(219.50,238.60) rotate(-90)" font-size="11">,</text><text transform="translate(219.50,224.50) rotate(-90)" font-size="11">V</text><text transform="translate(219.50,217.00) rotate(-90)" font-size="11">(</text><text transform="translate(219.50,211.10) rotate(-90)" style='font-family:"Liberation Serif",serif;font-size:12px'>δ</text><text transform="translate(219.50,206.30) rotate(-90)" font-size="11">)</text><text transform="translate(219.50,191.30) rotate(-90)" font-size="11">[</text><text transform="translate(219.50,185.50) rotate(-90)" font-size="11">k</text><text transform="translate(223.50,179.70) rotate(-90)" style='font-family:"Liberation Serif",serif;font-size:8px'>B</text><text transform="translate(219.50,173.00) rotate(-90)" font-size="11">T</text><text transform="translate(219.50,167.00) rotate(-90)" font-size="11">]</text></g>
<path d="M467.5 7V423h5.6V7zM585.9 7V423h-5.6V7z" fill="#d8d8d8"/>
<path d="M467.5 15.5H585.9M467.5 24.5H585.9M467.5 33.5H585.9M467.5 43.5H585.9M467.5 52.5H585.9M467.5 61.5H585.9M467.5 71.5H585.9M467.5 80.5H585.9M467.5 89.5H585.9M467.5 98.5H585.9M467.5 108.5H585.9M467.5 117.5H585.9M467.5 126.5H585.9M467.5 135.5H585.9M467.5 145.5H585.9M467.5 154.5H585.9M467.5 163.5H585.9M467.5 172.5H585.9M467.5 182.5H585.9M467.5 191.5H585.9M467.5 200.5H585.9M467.5 209.5H585.9M467.5 219.5H585.9M467.5 228.5H585.9M467.5 237.5H585.9M467.5 246.5H585.9M467.5 256.5H585.9M467.5 265.5H585.9M467.5 274.5H585.9M467.5 284.5H585.9M467.5 293.5H585.9M467.5 302.5H585.9M467.5 311.5H585.9M467.5 321.5H585.9M467.5 330.5H585.9M467.5 339.5H585.9M467.5 348.5H585.9M467.5 358.5H585.9M467.5 367.5H585.9M467.5 376.5H585.9M467.5 385.5H585.9M467.5 395.5H585.9M467.5 404.5H585.9M467.5 413.5H585.9" stroke="#151515" stroke-width="1.1" fill="none"/>
<path d="M467.5 8.3h5.6M585.9 8.3h-5.6M467.5 10.2h5.6M585.9 10.2h-5.6M467.5 12.1h5.6M585.9 12.1h-5.6M467.5 13.8h5.6M585.9 13.8h-5.6M467.5 17.5h5.6M585.9 17.5h-5.6M467.5 19.4h5.6M585.9 19.4h-5.6M467.5 21.3h5.6M585.9 21.3h-5.6M467.5 23.0h5.6M585.9 23.0h-5.6M467.5 26.8h5.6M585.9 26.8h-5.6M467.5 28.7h5.6M585.9 28.7h-5.6M467.5 30.6h5.6M585.9 30.6h-5.6M467.5 32.3h5.6M585.9 32.3h-5.6M467.5 36.1h5.6M585.9 36.1h-5.6M467.5 38.0h5.6M585.9 38.0h-5.6M467.5 39.9h5.6M585.9 39.9h-5.6M467.5 41.6h5.6M585.9 41.6h-5.6M467.5 45.3h5.6M585.9 45.3h-5.6M467.5 47.2h5.6M585.9 47.2h-5.6M467.5 49.1h5.6M585.9 49.1h-5.6M467.5 50.8h5.6M585.9 50.8h-5.6M467.5 54.6h5.6M585.9 54.6h-5.6M467.5 56.5h5.6M585.9 56.5h-5.6M467.5 58.4h5.6M585.9 58.4h-5.6M467.5 60.1h5.6M585.9 60.1h-5.6M467.5 63.8h5.6M585.9 63.8h-5.6M467.5 65.7h5.6M585.9 65.7h-5.6M467.5 67.6h5.6M585.9 67.6h-5.6M467.5 69.3h5.6M585.9 69.3h-5.6M467.5 73.1h5.6M585.9 73.1h-5.6M467.5 75.0h5.6M585.9 75.0h-5.6M467.5 76.9h5.6M585.9 76.9h-5.6M467.5 78.6h5.6M585.9 78.6h-5.6M467.5 82.4h5.6M585.9 82.4h-5.6M467.5 84.3h5.6M585.9 84.3h-5.6M467.5 86.2h5.6M585.9 86.2h-5.6M467.5 87.9h5.6M585.9 87.9h-5.6M467.5 91.6h5.6M585.9 91.6h-5.6M467.5 93.5h5.6M585.9 93.5h-5.6M467.5 95.4h5.6M585.9 95.4h-5.6M467.5 97.1h5.6M585.9 97.1h-5.6M467.5 100.9h5.6M585.9 100.9h-5.6M467.5 102.8h5.6M585.9 102.8h-5.6M467.5 104.7h5.6M585.9 104.7h-5.6M467.5 106.4h5.6M585.9 106.4h-5.6M467.5 110.2h5.6M585.9 110.2h-5.6M467.5 112.1h5.6M585.9 112.1h-5.6M467.5 114.0h5.6M585.9 114.0h-5.6M467.5 115.7h5.6M585.9 115.7h-5.6M467.5 119.4h5.6M585.9 119.4h-5.6M467.5 121.3h5.6M585.9 121.3h-5.6M467.5 123.2h5.6M585.9 123.2h-5.6M467.5 124.9h5.6M585.9 124.9h-5.6M467.5 128.7h5.6M585.9 128.7h-5.6M467.5 130.6h5.6M585.9 130.6h-5.6M467.5 132.5h5.6M585.9 132.5h-5.6M467.5 134.2h5.6M585.9 134.2h-5.6M467.5 137.9h5.6M585.9 137.9h-5.6M467.5 139.8h5.6M585.9 139.8h-5.6M467.5 141.7h5.6M585.9 141.7h-5.6M467.5 143.4h5.6M585.9 143.4h-5.6M467.5 147.2h5.6M585.9 147.2h-5.6M467.5 149.1h5.6M585.9 149.1h-5.6M467.5 151.0h5.6M585.9 151.0h-5.6M467.5 152.7h5.6M585.9 152.7h-5.6M467.5 156.5h5.6M585.9 156.5h-5.6M467.5 158.4h5.6M585.9 158.4h-5.6M467.5 160.3h5.6M585.9 160.3h-5.6M467.5 162.0h5.6M585.9 162.0h-5.6M467.5 165.7h5.6M585.9 165.7h-5.6M467.5 167.6h5.6M585.9 167.6h-5.6M467.5 169.5h5.6M585.9 169.5h-5.6M467.5 171.2h5.6M585.9 171.2h-5.6M467.5 175.0h5.6M585.9 175.0h-5.6M467.5 176.9h5.6M585.9 176.9h-5.6M467.5 178.8h5.6M585.9 178.8h-5.6M467.5 180.5h5.6M585.9 180.5h-5.6M467.5 184.3h5.6M585.9 184.3h-5.6M467.5 186.2h5.6M585.9 186.2h-5.6M467.5 188.1h5.6M585.9 188.1h-5.6M467.5 189.8h5.6M585.9 189.8h-5.6M467.5 193.5h5.6M585.9 193.5h-5.6M467.5 195.4h5.6M585.9 195.4h-5.6M467.5 197.3h5.6M585.9 197.3h-5.6M467.5 199.0h5.6M585.9 199.0h-5.6M467.5 202.8h5.6M585.9 202.8h-5.6M467.5 204.7h5.6M585.9 204.7h-5.6M467.5 206.6h5.6M585.9 206.6h-5.6M467.5 208.3h5.6M585.9 208.3h-5.6M467.5 212.0h5.6M585.9 212.0h-5.6M467.5 213.9h5.6M585.9 213.9h-5.6M467.5 215.8h5.6M585.9 215.8h-5.6M467.5 217.5h5.6M585.9 217.5h-5.6M467.5 221.3h5.6M585.9 221.3h-5.6M467.5 223.2h5.6M585.9 223.2h-5.6M467.5 225.1h5.6M585.9 225.1h-5.6M467.5 226.8h5.6M585.9 226.8h-5.6M467.5 230.6h5.6M585.9 230.6h-5.6M467.5 232.5h5.6M585.9 232.5h-5.6M467.5 234.4h5.6M585.9 234.4h-5.6M467.5 236.1h5.6M585.9 236.1h-5.6M467.5 239.8h5.6M585.9 239.8h-5.6M467.5 241.7h5.6M585.9 241.7h-5.6M467.5 243.6h5.6M585.9 243.6h-5.6M467.5 245.3h5.6M585.9 245.3h-5.6M467.5 249.1h5.6M585.9 249.1h-5.6M467.5 251.0h5.6M585.9 251.0h-5.6M467.5 252.9h5.6M585.9 252.9h-5.6M467.5 254.6h5.6M585.9 254.6h-5.6M467.5 258.4h5.6M585.9 258.4h-5.6M467.5 260.3h5.6M585.9 260.3h-5.6M467.5 262.2h5.6M585.9 262.2h-5.6M467.5 263.9h5.6M585.9 263.9h-5.6M467.5 267.6h5.6M585.9 267.6h-5.6M467.5 269.5h5.6M585.9 269.5h-5.6M467.5 271.4h5.6M585.9 271.4h-5.6M467.5 273.1h5.6M585.9 273.1h-5.6M467.5 276.9h5.6M585.9 276.9h-5.6M467.5 278.8h5.6M585.9 278.8h-5.6M467.5 280.7h5.6M585.9 280.7h-5.6M467.5 282.4h5.6M585.9 282.4h-5.6M467.5 286.1h5.6M585.9 286.1h-5.6M467.5 288.0h5.6M585.9 288.0h-5.6M467.5 289.9h5.6M585.9 289.9h-5.6M467.5 291.6h5.6M585.9 291.6h-5.6M467.5 295.4h5.6M585.9 295.4h-5.6M467.5 297.3h5.6M585.9 297.3h-5.6M467.5 299.2h5.6M585.9 299.2h-5.6M467.5 300.9h5.6M585.9 300.9h-5.6M467.5 304.7h5.6M585.9 304.7h-5.6M467.5 306.6h5.6M585.9 306.6h-5.6M467.5 308.5h5.6M585.9 308.5h-5.6M467.5 310.2h5.6M585.9 310.2h-5.6M467.5 313.9h5.6M585.9 313.9h-5.6M467.5 315.8h5.6M585.9 315.8h-5.6M467.5 317.7h5.6M585.9 317.7h-5.6M467.5 319.4h5.6M585.9 319.4h-5.6M467.5 323.2h5.6M585.9 323.2h-5.6M467.5 325.1h5.6M585.9 325.1h-5.6M467.5 327.0h5.6M585.9 327.0h-5.6M467.5 328.7h5.6M585.9 328.7h-5.6M467.5 332.4h5.6M585.9 332.4h-5.6M467.5 334.3h5.6M585.9 334.3h-5.6M467.5 336.2h5.6M585.9 336.2h-5.6M467.5 337.9h5.6M585.9 337.9h-5.6M467.5 341.7h5.6M585.9 341.7h-5.6M467.5 343.6h5.6M585.9 343.6h-5.6M467.5 345.5h5.6M585.9 345.5h-5.6M467.5 347.2h5.6M585.9 347.2h-5.6M467.5 351.0h5.6M585.9 351.0h-5.6M467.5 352.9h5.6M585.9 352.9h-5.6M467.5 354.8h5.6M585.9 354.8h-5.6M467.5 356.5h5.6M585.9 356.5h-5.6M467.5 360.2h5.6M585.9 360.2h-5.6M467.5 362.1h5.6M585.9 362.1h-5.6M467.5 364.0h5.6M585.9 364.0h-5.6M467.5 365.7h5.6M585.9 365.7h-5.6M467.5 369.5h5.6M585.9 369.5h-5.6M467.5 371.4h5.6M585.9 371.4h-5.6M467.5 373.3h5.6M585.9 373.3h-5.6M467.5 375.0h5.6M585.9 375.0h-5.6M467.5 378.8h5.6M585.9 378.8h-5.6M467.5 380.7h5.6M585.9 380.7h-5.6M467.5 382.6h5.6M585.9 382.6h-5.6M467.5 384.3h5.6M585.9 384.3h-5.6M467.5 388.0h5.6M585.9 388.0h-5.6M467.5 389.9h5.6M585.9 389.9h-5.6M467.5 391.8h5.6M585.9 391.8h-5.6M467.5 393.5h5.6M585.9 393.5h-5.6M467.5 397.3h5.6M585.9 397.3h-5.6M467.5 399.2h5.6M585.9 399.2h-5.6M467.5 401.1h5.6M585.9 401.1h-5.6M467.5 402.8h5.6M585.9 402.8h-5.6M467.5 406.5h5.6M585.9 406.5h-5.6M467.5 408.4h5.6M585.9 408.4h-5.6M467.5 410.3h5.6M585.9 410.3h-5.6M467.5 412.0h5.6M585.9 412.0h-5.6M467.5 415.8h5.6M585.9 415.8h-5.6M467.5 417.7h5.6M585.9 417.7h-5.6M467.5 419.6h5.6M585.9 419.6h-5.6M467.5 421.3h5.6M585.9 421.3h-5.6" stroke="#1e1e1e" stroke-width="1.2" fill="none"/>
<path d="M467.5 10.8 477.4 10.9 487.2 10.6 494.5 11.0 501.0 10.5 503.7 10.2 505.7 9.6 507.0 8.9 510.3 7.1 511.6 6.6M515.5 6.5 522.1 7.3 526.7 8.1 532.0 8.8 533.9 9.1 538.5 10.2 541.8 10.6 547.1 10.7 553.0 10.6 559.6 10.8 562.2 10.6 570.1 9.8 573.4 9.7 585.9 10.2M467.5 18.9 474.1 19.5 479.3 20.4 482.0 20.6 489.9 20.8 496.4 20.5 503.7 19.9 505.0 19.7 506.3 19.3 508.3 18.5 512.2 15.8M564.2 15.8 567.5 16.7 572.7 17.6 578.0 18.7 580.6 19.1 585.9 19.8M467.5 29.5 480.0 29.6 487.9 29.9 497.1 29.6 501.0 29.3 505.0 28.8 510.3 27.8 514.9 26.6 516.8 26.4 518.8 26.7 523.4 28.2 526.7 29.0 529.3 29.2 539.2 29.9 541.2 29.9 546.4 29.7 553.0 29.8 559.6 29.2 565.5 29.2 567.5 29.0 572.1 28.2 574.7 28.0 579.3 28.2 585.9 28.9M467.5 39.0 476.1 38.8 487.9 39.0 495.1 38.7 502.4 38.1 510.9 36.9 513.5 36.8 516.2 37.0 520.1 37.8 522.1 38.0 530.6 38.9 533.3 39.1 545.8 38.6 548.4 38.6 560.2 39.1 566.2 38.9 572.7 38.6 579.3 38.8 585.9 38.6M467.5 48.2 474.7 48.0 491.8 48.0 495.1 47.8 499.1 47.4 504.3 46.5 509.6 45.4 512.2 45.1 514.2 45.3 516.2 45.6 525.4 47.9 527.4 48.2 530.0 48.4 533.9 48.4 541.8 48.0 547.1 47.9 564.9 48.0 572.7 48.3 585.9 47.8M467.5 57.2 475.4 57.1 492.5 57.0 496.4 56.9 502.4 56.4 510.3 55.0 512.9 54.8 514.9 54.9 519.5 56.1 521.4 56.4 533.3 56.8 539.2 57.2 546.4 57.0 553.0 57.1 555.6 56.9 562.9 56.1 566.2 55.9 568.1 56.0 573.4 56.5 579.3 56.7 585.9 57.2M467.5 66.0 472.1 66.4 474.1 66.5 480.7 66.1 486.6 66.4 489.9 66.5 505.0 66.0 507.6 66.1 513.5 66.5 519.5 66.2 522.8 66.1 545.8 66.3 552.4 66.5 559.6 66.2 565.5 66.4 568.8 66.5 572.7 66.4 579.3 66.2 585.9 66.5M467.5 75.7 474.1 76.1 480.7 75.9 486.6 76.0 489.2 76.0 500.4 75.6 503.0 75.3 508.3 74.6 510.9 74.5 514.2 74.8 521.4 75.8 525.4 76.1 527.4 76.0 532.0 75.6 534.6 75.6 539.9 75.8 544.5 76.1 546.4 76.2 552.4 75.7 555.6 75.6 560.2 75.7 566.2 76.1 572.7 75.9 578.7 75.8 585.9 76.2M467.5 85.8 472.8 85.9 483.9 85.0 493.8 84.7 497.8 84.5 499.7 84.2 501.7 83.8 504.3 83.1 508.3 81.7 509.6 81.4 510.9 81.3 512.9 81.6 516.2 82.5 524.7 84.7 527.4 85.1 533.9 85.0 545.8 85.4 553.0 85.1 559.6 85.2 565.5 85.1 574.1 85.4 585.9 85.0M467.5 94.6 474.7 94.5 494.5 94.5 500.4 93.9 505.7 93.5 512.2 92.3 514.9 92.1 518.1 92.3 528.0 94.1 530.6 94.4 533.3 94.6 540.5 94.3 546.4 94.5 551.7 94.5 558.9 94.5 566.2 94.3 572.7 94.6 579.3 94.2 585.9 94.2M467.5 103.5 474.7 103.5 486.6 103.9 488.5 103.8 493.8 103.4 500.4 103.1 502.4 102.9 504.3 102.4 506.3 101.7 510.3 100.0 511.6 99.6 512.9 99.4 514.9 99.6 518.1 100.5 520.1 100.9 526.7 101.4 537.9 103.1 543.1 103.6 547.1 103.7 553.0 103.4 557.6 103.3 563.5 103.4 578.7 104.0 581.3 104.0 585.9 103.7M467.5 110.9 473.4 111.4 478.7 112.2 481.3 112.5 495.1 113.5 498.4 113.5 501.7 113.1 510.9 111.2 512.9 110.6 514.2 110.1 517.5 108.6M564.9 108.4 570.1 109.6 576.0 110.8 579.3 111.3 585.9 112.1M467.5 122.7 474.1 122.2 480.7 122.4 486.6 122.1 489.9 121.9 499.7 121.9 502.4 121.6 509.6 119.8 511.6 119.5 512.9 119.5 514.2 119.5 515.5 119.7 520.1 120.8 522.1 121.1 533.3 122.0 545.8 122.0 553.0 122.4 559.6 122.0 566.2 121.9 578.7 122.4 585.9 122.4M467.5 131.5 472.1 131.2 474.1 131.1 480.7 131.7 487.2 131.4 492.5 131.6 494.5 131.5 505.7 129.8 510.9 128.8 513.5 128.6 514.9 128.6 516.8 128.9 522.8 130.1 525.4 130.5 530.0 131.2 532.6 131.4 534.6 131.4 540.5 131.1 551.7 131.1 560.2 131.6 566.8 131.7 572.7 131.6 579.3 131.2 581.3 131.2 585.9 131.6M467.5 141.0 475.4 140.7 486.6 140.7 491.8 141.0 494.5 140.9 496.4 140.7 502.4 139.8 510.3 138.2 512.2 137.9 514.2 137.9 515.5 137.9 517.5 138.2 524.1 139.5 528.7 140.2 532.0 140.6 535.9 140.8 540.5 140.9 546.4 140.6 553.0 140.8 559.6 140.4 566.2 140.7 572.7 140.4 579.3 140.7 585.9 140.8M467.5 149.7 472.1 150.1 474.1 150.2 480.7 149.7 487.9 149.8 497.1 149.4 499.7 149.2 501.7 148.9 509.6 147.2 511.6 147.0 512.9 146.9 514.9 147.0 516.8 147.2 525.4 149.1 530.6 149.9 533.3 150.2 539.9 149.9 546.4 150.1 553.0 149.7 566.2 150.2 572.7 150.1 579.3 150.3 585.9 150.2M467.5 158.9 474.1 159.1 480.0 159.5 482.0 159.5 487.2 159.0 492.5 159.3 494.5 159.3 496.4 159.1 500.4 158.5 505.7 157.9 511.6 156.7 513.5 156.6 515.5 156.8 520.1 158.0 522.8 158.4 526.7 158.8 530.6 159.1 539.9 159.1 547.1 159.4 559.6 159.1 566.2 159.5 573.4 159.1 585.9 159.2M467.5 168.6 472.1 168.2 474.1 168.2 481.3 168.6 491.2 168.6 493.8 168.6 495.8 168.4 500.4 167.7 506.3 167.1 510.9 166.3 513.5 166.2 515.5 166.3 520.8 167.3 524.1 167.7 528.0 168.0 533.9 168.1 538.5 168.4 540.5 168.4 548.4 168.2 559.6 168.5 566.8 168.2 572.7 168.4 580.0 168.3 585.9 168.6M467.5 178.5 472.1 178.5 478.0 178.3 481.3 178.1 487.2 177.4 494.5 177.4 499.1 177.0 501.7 176.7 503.7 176.2 505.7 175.6 508.9 174.4 510.3 174.0 511.6 173.8 512.9 173.7 516.8 174.0 520.1 174.5 522.1 175.0 526.0 176.2 528.0 176.6 530.6 176.9 534.6 177.2 545.1 177.5 553.0 177.4 560.9 177.7 579.3 177.8 585.9 177.7M467.5 187.5 474.1 187.5 479.3 188.0 481.3 188.1 487.2 187.7 492.5 187.7 495.1 187.5 502.4 186.5 506.3 185.8 508.9 185.1 513.5 183.6 517.5 182.4M530.0 182.4 532.0 183.1 533.9 183.5 539.2 183.8 544.5 184.6 546.4 184.7 549.1 184.7 551.7 184.4 558.9 183.3 560.9 183.1 562.9 183.1 569.5 183.4 571.4 183.6 572.7 183.9 577.3 185.3 579.3 185.7 581.3 186.0 585.9 186.4M467.5 196.9 472.8 196.3 474.7 196.2 481.3 196.2 493.2 195.8 498.4 196.2 500.4 196.2 502.4 195.8 506.3 194.6 508.9 194.0 511.6 193.6 514.2 193.5 516.2 193.5 518.1 193.8 526.7 195.6 529.3 196.0 532.0 196.2 534.6 196.2 539.9 196.0 546.4 196.2 557.6 196.0 572.1 196.3 579.3 196.1 585.9 196.5M467.5 206.0 475.4 205.6 497.8 205.3 501.0 205.1 503.0 204.9 505.0 204.5 507.0 203.8 510.9 202.1 512.2 201.8 514.2 201.6 519.5 202.0 524.1 201.9 526.7 202.1 531.3 202.9 538.5 204.5 540.5 204.8 542.5 205.0 552.4 205.2 559.6 204.8 561.6 205.0 564.9 205.4 566.8 205.5 578.7 205.3 585.9 205.4M467.5 214.6 476.1 215.2 481.3 215.3 487.2 215.2 493.2 215.8 495.8 215.7 497.8 215.4 503.0 214.4 507.0 213.5 509.6 212.6 515.5 210.3M551.7 210.1 553.7 210.5 558.9 211.5 560.9 211.7 564.2 211.8 566.2 211.9 576.0 213.7 580.6 214.4 585.9 215.0M467.5 224.1 474.1 224.2 479.3 223.8 481.3 223.7 488.5 224.1 495.1 224.1 503.7 223.4 512.2 222.3 516.8 222.1 520.1 222.3 525.4 223.2 528.0 223.6 538.5 224.3 541.2 224.3 546.4 224.0 552.4 224.3 554.3 224.3 571.4 223.7 574.1 223.7 580.0 224.1 585.9 224.2M467.5 233.4 479.3 233.6 495.1 233.3 497.8 233.1 500.4 232.7 507.0 231.4 508.9 231.0 512.2 230.8 514.9 231.0 519.5 232.1 522.1 232.5 532.6 233.0 545.1 233.5 552.4 233.6 560.9 233.5 572.1 233.6 579.3 233.3 585.9 233.1M467.5 242.7 474.7 242.7 485.9 242.4 491.8 242.4 494.5 242.3 496.4 242.0 499.1 241.6 507.6 239.8 509.6 239.5 510.9 239.5 512.2 239.5 514.2 239.7 522.8 241.6 525.4 242.0 527.4 242.2 539.2 242.3 546.4 242.7 553.0 242.2 555.0 242.3 558.9 242.7 562.9 242.8 570.8 242.7 579.3 242.3 581.3 242.4 585.9 242.8M467.5 252.0 474.1 251.7 484.6 252.1 487.9 252.0 491.2 251.9 493.2 251.7 495.1 251.4 500.4 250.1 502.4 249.7 508.3 249.1 510.9 249.0 512.2 249.0 513.5 249.3 519.5 251.0 520.8 251.3 522.8 251.5 545.8 252.0 552.4 251.6 555.0 251.6 559.6 251.8 564.9 252.2 566.8 252.3 585.9 251.8M467.5 260.5 474.1 261.0 480.7 260.8 487.2 261.0 493.8 260.4 499.7 260.7 503.0 260.6 513.5 259.8 515.5 259.9 520.8 260.4 526.7 260.6 533.3 260.5 539.9 260.6 546.4 260.5 557.6 260.7 565.5 260.6 572.7 260.9 580.0 260.8 585.9 261.0M467.5 270.3 473.4 270.5 480.7 270.2 487.2 270.3 491.8 270.3 495.1 270.2 501.0 269.6 503.7 269.5 508.9 269.7 517.5 270.3 526.0 270.6 533.9 270.4 540.5 269.9 544.5 269.7 547.7 269.8 553.7 270.2 560.9 270.0 574.7 270.5 580.0 270.5 585.9 270.3M467.5 279.8 474.1 279.2 480.7 279.3 487.2 279.3 497.8 279.0 501.0 278.6 508.9 277.0 511.6 276.7 513.5 276.8 514.9 277.1 519.5 278.3 522.1 278.9 524.1 279.2 526.7 279.5 545.8 279.2 553.0 279.7 558.9 279.3 563.5 279.2 566.8 279.3 572.7 279.6 579.3 279.6 585.9 279.8M467.5 289.3 473.4 288.7 476.1 288.5 494.5 288.3 501.0 288.0 503.0 287.7 505.0 287.3 509.6 285.6 510.9 285.3 512.2 285.1 513.5 285.0 517.5 285.2 522.8 285.2 526.0 285.4 530.0 286.0 538.5 287.7 541.2 288.0 543.8 288.2 550.4 288.3 555.6 288.2 559.6 287.8 566.2 286.7 568.8 286.6 572.1 286.8 577.3 287.7 579.3 287.9 582.0 288.1 585.9 288.1M467.5 296.5 472.1 297.2 474.7 297.5 486.6 297.9 493.8 298.7 497.1 298.7 503.0 298.1 506.3 297.4 508.3 296.7 513.5 294.2 515.5 293.6M533.3 293.6 536.6 294.6 540.5 295.8 543.1 296.3 546.4 296.6 549.7 296.5 553.0 296.2 557.0 295.5 560.9 294.5 562.9 294.2 564.9 294.3 570.1 294.9 574.7 295.7 576.7 295.9 580.0 296.1 585.9 296.2M467.5 307.3 474.1 307.4 479.3 306.9 481.3 306.9 487.2 307.1 493.8 307.1 499.7 307.4 501.7 307.3 506.3 306.9 510.9 306.9 514.2 307.0 520.1 307.4 524.7 307.5 527.4 307.5 532.0 307.0 533.9 307.0 539.9 307.2 546.4 307.1 552.4 307.4 555.6 307.5 560.2 307.5 565.5 307.3 574.1 307.5 585.9 307.3M467.5 316.7 474.7 316.6 493.2 316.6 500.4 316.1 505.0 315.9 509.6 315.5 512.2 315.4 519.5 315.7 524.7 316.5 526.7 316.7 528.0 316.7 532.0 316.3 533.9 316.2 539.9 316.3 546.4 316.4 558.3 316.9 560.2 316.8 566.2 316.3 572.7 316.8 579.3 316.5 585.9 316.6M467.5 325.8 474.1 325.6 479.3 326.0 481.3 326.0 487.9 325.7 499.1 325.5 500.4 325.4 502.4 325.0 505.0 324.3 510.3 322.7 511.6 322.4 512.9 322.3 514.9 322.5 519.5 323.9 522.1 324.5 530.0 325.6 532.6 325.8 534.6 325.8 539.9 325.6 545.8 325.4 547.7 325.5 552.4 326.0 554.3 326.1 559.6 325.9 566.2 325.9 578.0 325.4 580.6 325.6 585.9 326.1M467.5 334.9 474.1 334.9 480.7 335.2 486.6 335.0 492.5 335.1 494.5 335.1 496.4 334.9 499.1 334.5 504.3 333.6 509.6 332.4 512.2 332.2 513.5 332.2 515.5 332.5 521.4 334.0 524.1 334.6 526.0 334.9 528.7 335.1 533.3 335.2 541.2 334.9 553.0 334.9 559.6 335.1 566.2 335.5 572.7 335.0 579.3 335.6 581.3 335.6 585.9 335.3M467.5 344.6 474.1 344.5 482.0 344.1 493.8 344.2 497.8 344.1 505.0 343.6 507.0 343.4 512.2 342.3 514.9 342.2 517.5 342.4 530.6 344.3 533.3 344.5 541.8 344.2 553.0 344.2 559.6 344.5 566.2 344.0 568.1 344.2 571.4 344.6 573.4 344.6 585.9 344.2M467.5 353.6 474.1 353.8 480.7 353.3 482.6 353.4 487.2 353.8 492.5 353.9 495.1 353.8 502.4 353.4 508.3 353.2 525.4 353.2 533.9 353.7 539.9 353.5 551.7 353.8 559.6 353.4 566.2 353.6 572.7 353.4 585.9 353.5M467.5 363.3 478.7 363.1 487.9 363.2 494.5 363.2 501.0 363.0 507.6 362.6 510.3 362.5 515.5 362.6 524.7 363.2 527.4 363.1 532.6 362.8 535.3 362.8 548.4 363.0 551.7 362.9 556.3 362.5 558.3 362.4 560.2 362.5 564.2 363.1 566.2 363.3 567.5 363.3 572.7 362.8 579.3 363.3 585.9 363.3M467.5 372.4 480.0 371.9 491.8 372.3 495.8 372.1 503.0 371.2 505.7 370.7 508.3 369.9 512.9 368.1 514.9 367.8 516.2 367.9 517.5 368.1 524.1 370.7 526.7 371.4 528.7 371.7 533.9 372.0 538.5 372.5 541.2 372.5 546.4 372.0 557.0 372.5 560.2 372.5 566.2 372.3 572.7 372.5 585.9 372.1M467.5 381.8 472.1 382.1 476.1 382.1 480.7 381.8 487.2 381.1 494.5 381.2 502.4 380.8 506.3 380.5 512.9 379.6 516.8 379.5 522.1 379.6 525.4 379.8 527.4 380.0 532.0 380.9 533.9 381.1 545.8 381.0 553.0 381.7 559.6 381.4 566.2 381.5 572.7 381.0 578.0 381.4 580.0 381.5 585.9 381.0M467.5 390.5 472.1 390.8 474.7 390.9 480.7 390.6 495.8 390.3 499.7 390.0 508.9 388.7 511.6 388.5 514.2 388.6 518.8 389.8 520.8 390.1 522.8 390.2 526.7 390.2 532.6 390.6 536.6 390.8 540.5 390.8 546.4 390.3 551.7 390.8 553.7 390.9 559.6 390.6 570.8 390.4 573.4 390.5 579.3 390.9 585.9 390.6M467.5 399.5 473.4 400.0 478.7 400.1 481.3 400.1 487.2 399.6 496.4 399.4 499.1 399.2 501.0 399.0 508.3 397.5 510.3 397.4 512.2 397.3 514.9 397.4 517.5 397.7 524.1 398.8 528.0 399.3 545.1 400.1 547.1 400.1 553.0 399.7 559.6 400.1 567.5 399.8 579.3 400.0 585.9 399.9M467.5 409.6 474.1 409.3 481.3 409.6 486.6 409.3 494.5 409.0 497.8 408.7 501.7 408.3 505.0 407.7 507.6 407.1 512.9 405.3 514.2 405.1 514.9 405.1 516.8 405.4 520.8 406.7 522.8 407.3 530.6 408.8 533.3 409.1 536.6 409.1 546.4 408.9 553.0 409.2 559.6 408.8 561.6 408.9 565.5 409.3 568.8 409.4 576.7 409.3 585.9 409.1M467.5 418.3 472.1 418.0 474.7 417.9 486.6 418.3 488.5 418.3 493.8 417.9 499.7 418.0 501.0 417.9 503.0 417.6 511.6 415.4 513.5 415.1 514.9 415.0 516.2 415.1 518.1 415.4 530.6 417.8 533.9 418.2 539.2 418.2 546.4 417.9 553.7 418.1 566.2 418.1 572.7 417.9 579.3 418.1 585.9 418.1" stroke="#111" stroke-width="1.2" fill="none" stroke-linejoin="round"/>
<path d="M467.5 11.7 491.2 11.7 499.7 11.4 503.0 11.2 506.3 10.7 517.5 8.7 521.4 8.4 524.1 8.5 526.7 8.8 535.3 10.4 539.2 11.0 542.5 11.3 545.8 11.5 551.0 11.6 557.0 11.5 561.6 11.3 570.8 10.7 574.7 10.5 579.3 10.6 585.9 11.0M467.5 20.0 487.2 21.5 492.5 21.6 496.4 21.4 503.0 20.6 505.0 20.2 506.3 19.9 507.6 19.4 508.9 18.7 512.9 16.4M562.2 16.1 568.8 17.6 573.4 18.5 578.0 19.3 585.9 20.4M467.5 30.4 491.2 30.4 497.8 30.3 502.4 29.9 505.0 29.5 510.9 28.3 512.9 28.1 514.9 28.0 516.8 28.1 518.8 28.3 524.7 29.5 528.0 30.0 530.6 30.2 533.9 30.3 547.7 30.4 557.6 30.3 562.2 30.1 571.4 29.3 575.4 29.1 579.3 29.2 585.9 29.8M467.5 39.7 491.2 39.7 497.8 39.6 502.4 39.2 510.9 38.0 512.9 37.8 514.9 37.8 516.8 37.8 518.8 38.0 527.4 39.2 533.3 39.6 541.2 39.7 585.9 39.7M467.5 48.9 487.9 48.9 494.5 48.7 497.1 48.5 499.7 48.1 507.6 46.4 509.6 46.2 510.9 46.1 512.9 46.2 514.9 46.5 520.8 47.8 523.4 48.3 526.0 48.6 529.3 48.8 537.2 48.9 585.9 48.9M467.5 58.0 489.9 58.0 496.4 57.8 501.7 57.3 509.6 56.1 512.9 55.9 514.9 56.0 516.8 56.2 525.4 57.5 528.0 57.7 531.3 57.9 539.9 58.0 548.4 57.9 553.7 57.6 562.2 57.0 566.2 56.9 570.1 57.0 580.0 57.7 585.9 57.9M467.5 67.1 585.9 67.1M467.5 76.7 493.8 76.6 512.2 76.2 526.0 76.6 532.6 76.7 585.9 76.7M467.5 86.7 470.8 86.7 480.0 86.1 491.2 85.9 495.1 85.7 497.8 85.4 499.7 85.0 507.6 83.2 509.6 83.0 510.9 82.9 512.9 83.1 514.9 83.4 520.8 84.8 523.4 85.3 526.0 85.6 529.3 85.8 537.2 85.9 585.9 85.9M467.5 95.2 491.2 95.2 497.8 95.1 502.4 94.7 505.0 94.3 510.9 93.1 512.9 92.9 514.9 92.8 516.8 92.9 518.8 93.1 524.7 94.3 527.4 94.7 530.0 94.9 533.3 95.1 541.2 95.2 585.9 95.2M467.5 104.5 489.9 104.4 498.4 104.2 501.7 104.0 505.0 103.6 515.5 101.9 518.1 101.7 520.1 101.7 522.1 101.7 524.7 101.9 535.9 103.7 539.2 104.0 543.1 104.3 552.4 104.4 585.9 104.5M467.5 111.9 477.4 112.9 487.2 113.5 494.5 114.3 497.8 114.3 499.7 114.1 502.4 113.7 508.3 112.7 510.9 112.1 512.9 111.5 514.2 111.0 516.2 110.1 518.8 108.7M564.2 108.8 568.8 110.0 575.4 111.4 579.3 112.0 585.9 112.9M467.5 123.4 479.3 123.1 491.8 122.9 496.4 122.8 499.1 122.5 501.7 122.2 509.6 120.5 511.6 120.3 512.9 120.3 514.9 120.4 516.8 120.6 522.8 121.9 525.4 122.4 528.0 122.7 531.3 122.9 539.2 123.0 585.9 123.0M467.5 132.2 489.9 132.2 496.4 132.0 499.1 131.8 501.7 131.4 509.6 129.7 511.6 129.5 512.9 129.4 514.9 129.5 516.8 129.8 522.8 131.1 525.4 131.6 528.0 131.9 531.3 132.1 539.2 132.2 585.9 132.2M467.5 141.5 491.2 141.5 497.8 141.3 502.4 140.9 505.0 140.4 510.9 139.2 512.9 138.9 514.9 138.8 516.8 138.9 518.8 139.2 524.7 140.4 527.4 140.9 530.0 141.2 533.3 141.4 541.2 141.5 585.9 141.5M467.5 150.7 489.9 150.7 496.4 150.5 499.1 150.2 501.7 149.8 509.6 147.9 511.6 147.7 512.9 147.6 514.9 147.8 516.8 148.1 522.8 149.5 525.4 150.0 528.0 150.4 531.3 150.6 539.2 150.7 585.9 150.7M467.5 160.0 489.9 160.0 496.4 159.8 499.1 159.6 501.7 159.2 509.6 157.7 512.9 157.5 514.9 157.6 516.8 157.8 522.8 159.0 525.4 159.4 528.0 159.7 531.3 159.9 539.2 160.0 585.9 160.0M467.5 169.2 489.9 169.2 496.4 169.1 499.1 168.9 501.7 168.5 509.6 167.1 512.9 166.8 514.9 166.9 516.8 167.2 522.8 168.3 525.4 168.7 528.0 169.0 531.3 169.2 539.2 169.2 585.9 169.2M467.5 179.2 471.4 179.1 482.6 178.6 494.5 178.3 499.1 178.1 501.7 177.9 504.3 177.5 512.9 175.7 514.9 175.5 516.8 175.4 518.8 175.5 520.8 175.7 528.0 177.2 531.3 177.8 533.9 178.1 537.2 178.3 545.8 178.4 585.9 178.4M467.5 188.2 484.6 188.8 487.9 188.7 491.8 188.4 501.0 187.2 506.3 186.3 510.9 185.1 518.1 182.9M528.7 182.7 530.6 183.4 534.6 184.2 542.5 185.4 545.8 185.8 547.7 185.7 550.4 185.5 562.9 183.9 564.9 183.7 566.8 183.8 569.5 184.2 576.0 185.8 585.9 187.4M467.5 197.5 482.0 197.1 494.5 197.0 498.4 196.8 501.0 196.6 503.7 196.2 511.6 194.7 514.9 194.4 516.8 194.5 518.8 194.8 524.7 196.0 527.4 196.4 530.0 196.7 533.3 196.9 541.2 197.0 585.9 197.0M467.5 206.8 471.4 206.7 482.6 206.1 495.8 205.9 501.0 205.6 507.0 205.0 516.8 203.2 519.5 203.0 521.4 202.9 523.4 202.9 526.0 203.1 537.9 205.2 541.2 205.5 545.1 205.8 554.3 206.0 585.9 206.0M467.5 215.4 476.1 215.9 483.9 216.2 493.2 216.4 497.1 216.2 501.7 215.5 507.6 214.0 510.3 213.2 513.5 212.0 514.9 211.4 516.2 210.7M549.1 210.5 554.3 211.5 564.9 212.7 572.1 213.6 585.9 215.8M467.5 224.8 490.5 224.8 497.1 224.6 502.4 224.2 510.9 222.9 514.2 222.8 517.5 223.0 526.0 224.3 528.7 224.5 532.0 224.7 539.9 224.8 585.9 224.8M467.5 234.1 489.9 234.1 496.4 234.0 499.1 233.8 501.7 233.4 509.6 232.1 512.9 231.8 514.9 231.9 516.8 232.2 525.4 233.6 528.0 233.9 531.3 234.0 539.2 234.1 585.9 234.1M467.5 243.3 487.9 243.3 494.5 243.1 497.1 242.8 499.7 242.4 507.6 240.7 509.6 240.4 510.9 240.4 512.9 240.5 514.9 240.8 520.8 242.1 523.4 242.6 526.0 243.0 529.3 243.2 537.2 243.3 585.9 243.3M467.5 252.7 485.9 252.7 492.5 252.5 495.1 252.2 497.8 251.8 505.7 250.0 507.6 249.7 508.9 249.6 510.9 249.8 512.9 250.1 518.8 251.5 521.4 252.1 524.1 252.4 527.4 252.6 535.3 252.7 585.9 252.7M467.5 261.5 497.8 261.5 516.8 260.9 520.8 261.0 531.3 261.4 537.2 261.5 585.9 261.5M467.5 271.1 585.9 271.1M467.5 280.3 487.9 280.3 494.5 280.1 497.1 279.9 499.7 279.6 507.6 278.1 510.9 277.8 512.9 277.9 514.9 278.2 520.8 279.3 523.4 279.8 526.0 280.0 529.3 280.2 537.2 280.3 585.9 280.3M467.5 289.9 480.7 289.4 495.8 289.2 501.7 289.0 507.6 288.4 518.1 286.7 520.8 286.4 522.8 286.4 525.4 286.5 528.0 286.8 535.9 288.1 539.9 288.6 545.8 289.1 551.0 289.2 556.3 289.2 568.8 288.6 572.7 288.6 576.7 288.6 585.9 289.1M467.5 297.3 474.7 298.2 478.7 298.5 493.8 299.3 497.8 299.3 502.4 298.8 507.6 297.8 516.8 295.3 523.4 293.8M530.6 293.8 541.8 296.6 544.5 297.1 546.4 297.3 549.7 297.3 553.7 296.9 557.0 296.4 562.2 295.0 564.2 294.9 566.2 295.0 570.1 295.4 574.7 296.3 576.7 296.6 585.9 297.3M467.5 308.0 585.9 308.0M467.5 317.3 495.1 317.3 513.5 316.7 517.5 316.8 528.0 317.2 533.9 317.3 585.9 317.3M467.5 326.6 489.9 326.6 496.4 326.4 499.1 326.2 501.7 325.9 509.6 324.4 512.9 324.2 514.9 324.3 516.8 324.5 522.8 325.6 525.4 326.1 528.0 326.3 531.3 326.5 539.2 326.6 585.9 326.6M467.5 336.0 487.9 336.0 494.5 335.8 497.1 335.6 499.7 335.1 507.6 333.3 509.6 333.1 510.9 333.0 512.9 333.2 514.9 333.5 520.8 334.9 523.4 335.4 526.0 335.7 529.3 335.9 537.2 336.0 585.9 336.0M467.5 345.1 491.2 345.1 497.8 345.0 502.4 344.6 510.9 343.2 512.9 343.0 514.9 342.9 516.8 343.0 518.8 343.2 527.4 344.6 530.0 344.9 533.3 345.0 541.2 345.1 585.9 345.1M467.5 354.4 585.9 354.4M467.5 363.9 585.9 363.9M467.5 373.1 491.2 373.1 497.8 372.9 500.4 372.6 502.4 372.3 505.0 371.7 510.9 370.0 512.9 369.6 514.9 369.5 516.8 369.6 518.8 370.0 524.7 371.7 527.4 372.3 530.0 372.7 533.3 372.9 541.2 373.1 585.9 373.1M467.5 382.9 471.4 382.8 482.6 382.3 497.8 381.9 502.4 381.5 511.6 380.7 516.2 380.4 520.8 380.6 532.6 381.7 540.5 382.0 549.7 382.1 585.9 382.1M467.5 391.4 487.9 391.4 494.5 391.2 499.7 390.8 507.6 389.8 510.9 389.6 514.9 389.8 523.4 391.0 529.3 391.3 585.9 391.4M467.5 400.6 489.9 400.6 496.4 400.4 499.1 400.2 501.7 399.8 509.6 398.1 511.6 397.9 512.9 397.8 514.9 397.9 516.8 398.2 522.8 399.5 525.4 400.0 528.0 400.3 531.3 400.5 539.2 400.6 585.9 400.6M467.5 410.7 471.4 410.6 482.6 410.0 494.5 409.8 499.1 409.6 501.7 409.3 503.7 409.0 511.6 407.2 513.5 406.9 514.9 406.9 516.8 407.0 518.8 407.3 524.7 408.7 527.4 409.2 530.0 409.6 533.3 409.8 541.2 409.9 585.9 409.9M467.5 418.8 492.5 418.8 499.1 418.7 501.7 418.4 504.3 418.1 512.9 416.3 514.9 416.1 516.2 416.1 517.5 416.1 519.5 416.4 528.0 418.2 530.6 418.5 533.9 418.7 541.8 418.8 585.9 418.8" stroke="#e20e0e" stroke-width="1.9" fill="none" stroke-linejoin="round"/>
<path d="M526.7 7.0V423.5" stroke="#111" stroke-width="1"/>
<path d="M487.2 7.0v4.3M487.2 423.5v-4.3M507.0 7.0v4.3M507.0 423.5v-4.3M546.4 7.0v4.3M546.4 423.5v-4.3M566.2 7.0v4.3M566.2 423.5v-4.3" stroke="#111" stroke-width="1"/>
<rect x="467.5" y="7.4" width="118.4" height="415.6" fill="none" stroke="#000" stroke-width="1.3"/>
<g font-size="11" fill="#505050" text-anchor="end"><text x="460.3" y="15.73">138</text><text x="460.3" y="24.98">137</text><text x="460.3" y="34.24">136</text><text x="460.3" y="43.49">135</text><text x="460.3" y="52.75">134</text><text x="460.3" y="62.01">133</text><text x="460.3" y="71.26">132</text><text x="460.3" y="80.52">131</text><text x="460.3" y="89.77">130</text><text x="460.3" y="99.03">129</text><text x="460.3" y="108.28">128</text><text x="460.3" y="117.54">127</text><text x="460.3" y="126.79">126</text><text x="460.3" y="136.05">125</text><text x="460.3" y="145.31">124</text><text x="460.3" y="154.56">123</text><text x="460.3" y="163.82">122</text><text x="460.3" y="173.07">121</text><text x="460.3" y="182.33">120</text><text x="460.3" y="191.58">119</text><text x="460.3" y="200.84">118</text><text x="460.3" y="210.09">117</text><text x="460.3" y="219.35">116</text><text x="460.3" y="228.61">115</text><text x="460.3" y="237.86">114</text><text x="460.3" y="247.12">113</text><text x="460.3" y="256.37">112</text><text x="460.3" y="265.63">111</text><text x="460.3" y="274.88">110</text><text x="460.3" y="284.14">109</text><text x="460.3" y="293.39">108</text><text x="460.3" y="302.65">107</text><text x="460.3" y="311.91">106</text><text x="460.3" y="321.16">105</text><text x="460.3" y="330.42">104</text><text x="460.3" y="339.67">103</text><text x="460.3" y="348.93">102</text><text x="460.3" y="358.18">101</text><text x="460.3" y="367.44">100</text><text x="460.3" y="376.69">99</text><text x="460.3" y="385.95">98</text><text x="460.3" y="395.21">97</text><text x="460.3" y="404.46">96</text><text x="460.3" y="413.72">95</text><text x="460.3" y="422.97">94</text></g>
<g font-size="11" fill="#505050" text-anchor="middle"><text x="467.8" y="438">-180</text><text x="530.7" y="438">0</text><text x="588.9" y="438">180</text></g>
<g fill="#505050"><text x="488.70" y="454" style='font-family:"Liberation Serif",serif;font-size:12px'>γ</text><text x="493.35" y="457.4" style='font-family:"Liberation Serif",serif;font-size:10px'>n</text><text x="501.25" y="454" font-size="11" text-anchor="middle">,</text><text x="515.10" y="454.5" style='font-family:"Liberation Serif",serif;font-size:12px' text-anchor="middle">δ</text><text x="520.85" y="457.6" style='font-family:"Liberation Serif",serif;font-size:10px' text-anchor="middle">n</text><text x="547.45" y="453.8" font-size="11" text-anchor="middle">[deg]</text></g>
<g fill="#505050" text-anchor="middle"><text transform="translate(423.40,263.40) rotate(-90)" font-size="11">V</text><text transform="translate(423.40,256.20) rotate(-90)" font-size="11">(</text><text transform="translate(423.40,250.00) rotate(-90)" style='font-family:"Liberation Serif",serif;font-size:12px'>γ</text><text transform="translate(423.40,246.20) rotate(-90)" font-size="11">)</text><text transform="translate(423.40,238.60) rotate(-90)" font-size="11">,</text><text transform="translate(423.40,224.50) rotate(-90)" font-size="11">V</text><text transform="translate(423.40,217.00) rotate(-90)" font-size="11">(</text><text transform="translate(423.40,211.10) rotate(-90)" style='font-family:"Liberation Serif",serif;font-size:12px'>δ</text><text transform="translate(423.40,206.30) rotate(-90)" font-size="11">)</text><text transform="translate(423.40,191.30) rotate(-90)" font-size="11">[</text><text transform="translate(423.40,185.50) rotate(-90)" font-size="11">k</text><text transform="translate(427.40,179.70) rotate(-90)" style='font-family:"Liberation Serif",serif;font-size:8px'>B</text><text transform="translate(423.40,173.00) rotate(-90)" font-size="11">T</text><text transform="translate(423.40,167.00) rotate(-90)" font-size="11">]</text></g>
</svg></body></html>
